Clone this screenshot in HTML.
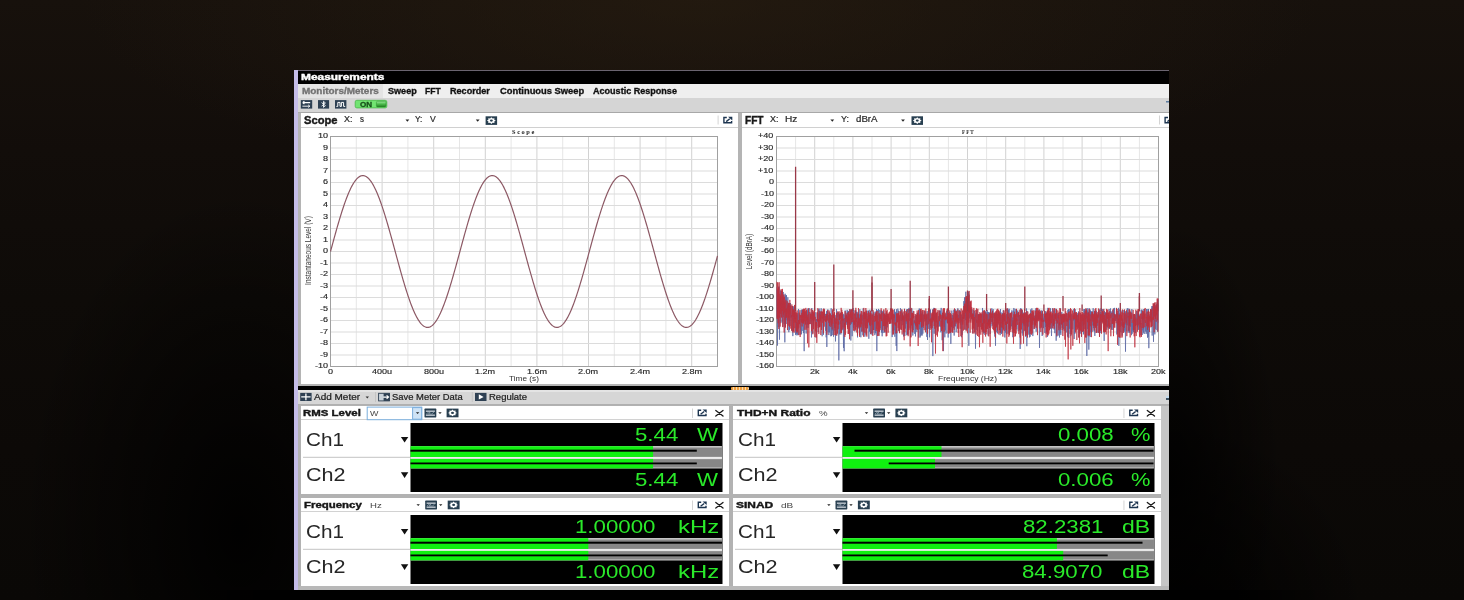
<!DOCTYPE html><html><head><meta charset="utf-8"><title>Measurements</title><style>
*{margin:0;padding:0;box-sizing:border-box}
html,body{width:1464px;height:600px;overflow:hidden}
body{position:relative;font-family:"Liberation Sans",sans-serif;
background:
 radial-gradient(ellipse 220px 340px at 240px 530px, rgba(0,0,0,0.9), rgba(0,0,0,0) 100%),
 radial-gradient(ellipse 110px 260px at 1172px 480px, rgba(0,0,0,0.85), rgba(0,0,0,0) 100%),
 radial-gradient(ellipse 200px 200px at 1169px 620px, rgba(0,0,0,0.95), rgba(0,0,0,0) 100%),
 radial-gradient(ellipse 620px 190px at 700px 0px, rgba(44,32,18,0.55), rgba(44,32,18,0) 100%),
 linear-gradient(#17110c 0px, #120d0a 150px, #0e0b08 300px, #0c0907 450px, #0a0806 600px);}
#root{position:absolute;left:0;top:0;width:1464px;height:600px;filter:blur(0.4px)}
.a{position:absolute}
.t{position:absolute;white-space:nowrap;line-height:1;transform-origin:0 0}
svg{position:absolute;overflow:visible}
</style></head><body><div id="root">
<div class="a" style="left:200px;top:590px;width:1130px;height:10px;background:linear-gradient(90deg, rgba(0,0,0,0), #000 80px, #000 1010px, rgba(0,0,0,0))"></div>
<div class="a" style="left:298px;top:70px;width:871px;height:520px;background:#b2b2b2"></div>
<div class="a" style="left:294px;top:70px;width:4px;height:520px;background:#c4bce8"></div>
<div class="a" style="left:298px;top:70px;width:871px;height:1px;background:#6a6470"></div>
<div class="a" style="left:298px;top:71px;width:871px;height:13px;background:#000"></div>
<div class="t" style="left:301.16px;top:72.93px;font-size:9.3px;font-family:'Liberation Sans';font-weight:bold;color:#fff;transform:scaleX(1.2810);-webkit-text-stroke:0.40px currentColor;">Measurements</div>
<div class="a" style="left:298px;top:84px;width:871px;height:13.5px;background:#efefef"></div>
<div class="a" style="left:298px;top:84px;width:85px;height:13.5px;background:#e4e4e4"></div>
<div class="t" style="left:301.98px;top:86.67px;font-size:8.4px;font-family:'Liberation Sans';font-weight:bold;color:#717171;transform:scaleX(1.1873);-webkit-text-stroke:0.30px currentColor;">Monitors/Meters</div>
<div class="t" style="left:387.66px;top:86.67px;font-size:8.4px;font-family:'Liberation Sans';font-weight:bold;color:#111;transform:scaleX(1.0838);-webkit-text-stroke:0.30px currentColor;">Sweep</div>
<div class="t" style="left:425.26px;top:86.67px;font-size:8.4px;font-family:'Liberation Sans';font-weight:bold;color:#111;transform:scaleX(1.0232);-webkit-text-stroke:0.30px currentColor;">FFT</div>
<div class="t" style="left:450.43px;top:86.67px;font-size:8.4px;font-family:'Liberation Sans';font-weight:bold;color:#111;transform:scaleX(1.0845);-webkit-text-stroke:0.30px currentColor;">Recorder</div>
<div class="t" style="left:499.51px;top:86.67px;font-size:8.4px;font-family:'Liberation Sans';font-weight:bold;color:#111;transform:scaleX(1.1177);-webkit-text-stroke:0.30px currentColor;">Continuous Sweep</div>
<div class="t" style="left:592.86px;top:86.67px;font-size:8.4px;font-family:'Liberation Sans';font-weight:bold;color:#111;transform:scaleX(1.0797);-webkit-text-stroke:0.30px currentColor;">Acoustic Response</div>
<div class="a" style="left:298px;top:97.5px;width:871px;height:15px;background:#d5d5d5"></div>
<div class="a" style="left:298px;top:111.5px;width:871px;height:1px;background:#a8a8a8"></div>
<svg style="left:298px;top:97px" width="100" height="16" viewBox="298 97 100 16">
<rect x="300.8" y="100.1" width="11.4" height="8.5" fill="#2e4053"/><path d="M302.6 102.6H310.2M302.6 102.6l1.8 -1.4M302.6 102.6l1.8 1.4" stroke="#fff" stroke-width="1.1" fill="none"/><path d="M302.4 106.2H309.8M309.8 106.2l-1.6 -1.3M309.8 106.2l-1.6 1.3" stroke="#fff" stroke-width="0.9" fill="none"/><rect x="318" y="100.1" width="11.1" height="8.5" fill="#2e4053"/><path d="M321.6 102.6L325.4 105.6L323.5 107.3V101.3L325.4 103.0L321.6 106.1" stroke="#fff" stroke-width="0.9" fill="none"/><rect x="335" y="100.1" width="11.4" height="8.5" fill="#2e4053"/><path d="M336.4 106.4H337.8V102.4H340V106.4H341.4V102.4H343.6V106.4H345.2" stroke="#fff" stroke-width="1" fill="none"/><defs><linearGradient id="ong" x1="0" y1="0" x2="0" y2="1"><stop offset="0" stop-color="#9ae89a"/><stop offset="0.5" stop-color="#4cbc4c"/><stop offset="1" stop-color="#237d23"/></linearGradient></defs><rect x="355.2" y="100.3" width="31.6" height="7.6" rx="1.6" fill="#72e472" stroke="#47b847" stroke-width="0.8"/><rect x="376.4" y="101.3" width="9.6" height="5.6" rx="1.2" fill="url(#ong)" stroke="#2b8a2b" stroke-width="0.5"/>
</svg>
<div class="t" style="left:359.75px;top:100.54px;font-size:7.2px;font-family:'Liberation Sans';font-weight:bold;color:#17501a;transform:scaleX(1.1188);-webkit-text-stroke:0.30px currentColor;">ON</div>
<svg style="left:1160px;top:97px" width="9" height="15" viewBox="1160 97 9 15"><path d="M1166 101.8h3" stroke="#4a6f98" stroke-width="1.3"/></svg>
<div class="a" style="left:298px;top:112.5px;width:871px;height:273.5px;background:#b4b4b4"></div>
<div class="a" style="left:300.5px;top:112.5px;width:437.2px;height:271.6px;background:#fff"></div>
<div class="a" style="left:300.5px;top:127px;width:437.2px;height:1px;background:#d0d0d0"></div>
<div class="a" style="left:741.7px;top:112.5px;width:427.3px;height:271.6px;background:#fff"></div>
<div class="a" style="left:741.7px;top:127px;width:427.3px;height:1px;background:#d0d0d0"></div>
<div class="t" style="left:303.63px;top:115.50px;font-size:10.2px;font-family:'Liberation Sans';font-weight:bold;color:#1a1a1a;transform:scaleX(1.0962);-webkit-text-stroke:0.40px currentColor;">Scope</div>
<div class="t" style="left:344.26px;top:116.10px;font-size:8.2px;font-family:'Liberation Sans';font-weight:normal;color:#2a2a2a;transform:scaleX(1.0903);-webkit-text-stroke:0.2px currentColor;">X:</div>
<div class="t" style="left:360.18px;top:116.10px;font-size:8.2px;font-family:'Liberation Sans';font-weight:normal;color:#2a2a2a;transform:scaleX(0.9689);-webkit-text-stroke:0.2px currentColor;">s</div>
<div class="t" style="left:415.37px;top:116.10px;font-size:8.2px;font-family:'Liberation Sans';font-weight:normal;color:#2a2a2a;transform:scaleX(1.0115);-webkit-text-stroke:0.2px currentColor;">Y:</div>
<div class="t" style="left:430.20px;top:116.10px;font-size:8.2px;font-family:'Liberation Sans';font-weight:normal;color:#2a2a2a;transform:scaleX(1.0528);-webkit-text-stroke:0.2px currentColor;">V</div>
<svg style="left:300px;top:112px;overflow:visible" width="440" height="275" viewBox="300 112 440 275">
<path d="M405.50 119.45h3.80l-1.90 2.30z" fill="#222"/><path d="M475.80 119.45h3.80l-1.90 2.30z" fill="#222"/><rect x="485.6" y="116.3" width="11.5" height="8.6" fill="#283f50"/><polygon points="495.75,120.60 494.28,121.51 494.46,122.93 492.56,122.80 491.35,123.90 490.14,122.80 488.24,122.93 488.42,121.51 486.95,120.60 488.42,119.69 488.24,118.27 490.14,118.40 491.35,117.30 492.56,118.40 494.46,118.27 494.28,119.69" fill="#fff"/><ellipse cx="491.35" cy="120.6" rx="1.5" ry="1.15" fill="#283f50"/><rect x="717.6" y="115.5" width="1" height="9" fill="#d4d4d4"/><path d="M726.80 117.50H723.90V122.80H731.60V121.00" fill="none" stroke="#1d3550" stroke-width="1.4"/><path d="M726.20 121.60L729.80 118.80" stroke="#1d3550" stroke-width="1.4"/><path d="M728.10 116.80H732.30V120.40Z" fill="#1d3550"/><rect x="355.80" y="136.5" width="1" height="230.00" fill="#e6e6e6"/><rect x="381.60" y="136.5" width="1" height="230.00" fill="#d2d2d2"/><rect x="407.40" y="136.5" width="1" height="230.00" fill="#e6e6e6"/><rect x="433.20" y="136.5" width="1" height="230.00" fill="#d2d2d2"/><rect x="459.00" y="136.5" width="1" height="230.00" fill="#e6e6e6"/><rect x="484.80" y="136.5" width="1" height="230.00" fill="#d2d2d2"/><rect x="510.60" y="136.5" width="1" height="230.00" fill="#e6e6e6"/><rect x="536.40" y="136.5" width="1" height="230.00" fill="#d2d2d2"/><rect x="562.20" y="136.5" width="1" height="230.00" fill="#e6e6e6"/><rect x="588.00" y="136.5" width="1" height="230.00" fill="#d2d2d2"/><rect x="613.80" y="136.5" width="1" height="230.00" fill="#e6e6e6"/><rect x="639.60" y="136.5" width="1" height="230.00" fill="#d2d2d2"/><rect x="665.40" y="136.5" width="1" height="230.00" fill="#e6e6e6"/><rect x="691.20" y="136.5" width="1" height="230.00" fill="#d2d2d2"/><rect x="330.5" y="147.50" width="387.00" height="1" fill="#dcdcdc"/><rect x="330.5" y="159.00" width="387.00" height="1" fill="#dcdcdc"/><rect x="330.5" y="170.50" width="387.00" height="1" fill="#dcdcdc"/><rect x="330.5" y="182.00" width="387.00" height="1" fill="#dcdcdc"/><rect x="330.5" y="193.50" width="387.00" height="1" fill="#dcdcdc"/><rect x="330.5" y="205.00" width="387.00" height="1" fill="#dcdcdc"/><rect x="330.5" y="216.50" width="387.00" height="1" fill="#dcdcdc"/><rect x="330.5" y="228.00" width="387.00" height="1" fill="#dcdcdc"/><rect x="330.5" y="239.50" width="387.00" height="1" fill="#dcdcdc"/><rect x="330.5" y="251.00" width="387.00" height="1" fill="#dcdcdc"/><rect x="330.5" y="262.50" width="387.00" height="1" fill="#dcdcdc"/><rect x="330.5" y="274.00" width="387.00" height="1" fill="#dcdcdc"/><rect x="330.5" y="285.50" width="387.00" height="1" fill="#dcdcdc"/><rect x="330.5" y="297.00" width="387.00" height="1" fill="#dcdcdc"/><rect x="330.5" y="308.50" width="387.00" height="1" fill="#dcdcdc"/><rect x="330.5" y="320.00" width="387.00" height="1" fill="#dcdcdc"/><rect x="330.5" y="331.50" width="387.00" height="1" fill="#dcdcdc"/><rect x="330.5" y="343.00" width="387.00" height="1" fill="#dcdcdc"/><rect x="330.5" y="354.50" width="387.00" height="1" fill="#dcdcdc"/><rect x="330.5" y="136.5" width="387.0" height="230.00" fill="none" stroke="#a0a0a0" stroke-width="1"/><polyline points="330.50,251.50 331.00,249.66 331.50,247.82 332.00,245.98 332.50,244.14 333.00,242.31 333.50,240.48 334.00,238.66 334.50,236.85 335.00,235.05 335.50,233.25 336.00,231.47 336.50,229.70 337.00,227.94 337.50,226.20 338.00,224.47 338.50,222.75 339.00,221.06 339.50,219.38 340.00,217.72 340.50,216.08 341.00,214.46 341.50,212.86 342.00,211.29 342.50,209.74 343.00,208.21 343.50,206.71 344.00,205.23 344.50,203.79 345.00,202.37 345.50,200.98 346.00,199.62 346.50,198.29 347.00,196.99 347.50,195.72 348.00,194.49 348.50,193.29 349.00,192.13 349.50,191.00 350.00,189.90 350.50,188.84 351.00,187.82 351.50,186.84 352.00,185.89 352.50,184.98 353.00,184.12 353.50,183.29 354.00,182.50 354.50,181.75 355.00,181.05 355.50,180.38 356.00,179.76 356.50,179.18 357.00,178.64 357.50,178.15 358.00,177.69 358.50,177.29 359.00,176.92 359.50,176.60 360.00,176.33 360.50,176.09 361.00,175.91 361.50,175.76 362.00,175.66 362.50,175.61 363.00,175.60 363.50,175.64 364.00,175.72 364.50,175.84 365.00,176.01 365.50,176.23 366.00,176.49 366.50,176.79 367.00,177.14 367.50,177.53 368.00,177.96 368.50,178.44 369.00,178.96 369.50,179.52 370.00,180.13 370.50,180.78 371.00,181.47 371.50,182.20 372.00,182.97 372.50,183.78 373.00,184.63 373.50,185.52 374.00,186.45 374.50,187.42 375.00,188.43 375.50,189.47 376.00,190.55 376.50,191.67 377.00,192.82 377.50,194.01 378.00,195.23 378.50,196.48 379.00,197.77 379.50,199.08 380.00,200.43 380.50,201.81 381.00,203.22 381.50,204.65 382.00,206.12 382.50,207.61 383.00,209.12 383.50,210.66 384.00,212.23 384.50,213.82 385.00,215.43 385.50,217.06 386.00,218.71 386.50,220.38 387.00,222.07 387.50,223.78 388.00,225.50 388.50,227.24 389.00,228.99 389.50,230.76 390.00,232.54 390.50,234.33 391.00,236.13 391.50,237.94 392.00,239.75 392.50,241.58 393.00,243.41 393.50,245.24 394.00,247.08 394.50,248.92 395.00,250.76 395.50,252.61 396.00,254.45 396.50,256.29 397.00,258.13 397.50,259.96 398.00,261.79 398.50,263.61 399.00,265.43 399.50,267.23 400.00,269.03 400.50,270.82 401.00,272.59 401.50,274.36 402.00,276.11 402.50,277.84 403.00,279.56 403.50,281.27 404.00,282.95 404.50,284.62 405.00,286.27 405.50,287.90 406.00,289.50 406.50,291.09 407.00,292.65 407.50,294.18 408.00,295.69 408.50,297.18 409.00,298.64 409.50,300.07 410.00,301.47 410.50,302.84 411.00,304.18 411.50,305.49 412.00,306.77 412.50,308.02 413.00,309.23 413.50,310.41 414.00,311.56 414.50,312.67 415.00,313.74 415.50,314.77 416.00,315.77 416.50,316.73 417.00,317.66 417.50,318.54 418.00,319.38 418.50,320.19 419.00,320.95 419.50,321.68 420.00,322.36 420.50,323.00 421.00,323.59 421.50,324.15 422.00,324.66 422.50,325.13 423.00,325.56 423.50,325.94 424.00,326.28 424.50,326.57 425.00,326.82 425.50,327.02 426.00,327.19 426.50,327.30 427.00,327.37 427.50,327.40 428.00,327.38 428.50,327.32 429.00,327.21 429.50,327.06 430.00,326.86 430.50,326.62 431.00,326.34 431.50,326.01 432.00,325.64 432.50,325.22 433.00,324.76 433.50,324.25 434.00,323.71 434.50,323.12 435.00,322.49 435.50,321.81 436.00,321.10 436.50,320.34 437.00,319.55 437.50,318.71 438.00,317.84 438.50,316.92 439.00,315.97 439.50,314.98 440.00,313.95 440.50,312.88 441.00,311.78 441.50,310.64 442.00,309.47 442.50,308.26 443.00,307.03 443.50,305.75 444.00,304.45 444.50,303.11 445.00,301.75 445.50,300.35 446.00,298.93 446.50,297.47 447.00,295.99 447.50,294.49 448.00,292.96 448.50,291.40 449.00,289.82 449.50,288.22 450.00,286.60 450.50,284.95 451.00,283.29 451.50,281.61 452.00,279.91 452.50,278.19 453.00,276.46 453.50,274.71 454.00,272.95 454.50,271.17 455.00,269.39 455.50,267.59 456.00,265.79 456.50,263.97 457.00,262.15 457.50,260.33 458.00,258.49 458.50,256.66 459.00,254.82 459.50,252.97 460.00,251.13 460.50,249.29 461.00,247.45 461.50,245.61 462.00,243.77 462.50,241.94 463.00,240.12 463.50,238.30 464.00,236.49 464.50,234.69 465.00,232.90 465.50,231.12 466.00,229.35 466.50,227.59 467.00,225.85 467.50,224.12 468.00,222.41 468.50,220.72 469.00,219.04 469.50,217.39 470.00,215.75 470.50,214.14 471.00,212.54 471.50,210.97 472.00,209.43 472.50,207.91 473.00,206.41 473.50,204.94 474.00,203.50 474.50,202.09 475.00,200.70 475.50,199.35 476.00,198.03 476.50,196.73 477.00,195.47 477.50,194.25 478.00,193.06 478.50,191.90 479.00,190.77 479.50,189.69 480.00,188.64 480.50,187.62 481.00,186.65 481.50,185.71 482.00,184.81 482.50,183.95 483.00,183.13 483.50,182.35 484.00,181.61 484.50,180.91 485.00,180.25 485.50,179.64 486.00,179.07 486.50,178.54 487.00,178.05 487.50,177.61 488.00,177.21 488.50,176.85 489.00,176.54 489.50,176.28 490.00,176.05 490.50,175.87 491.00,175.74 491.50,175.65 492.00,175.61 492.50,175.61 493.00,175.65 493.50,175.74 494.00,175.87 494.50,176.05 495.00,176.28 495.50,176.54 496.00,176.85 496.50,177.21 497.00,177.61 497.50,178.05 498.00,178.54 498.50,179.07 499.00,179.64 499.50,180.25 500.00,180.91 500.50,181.61 501.00,182.35 501.50,183.13 502.00,183.95 502.50,184.81 503.00,185.71 503.50,186.65 504.00,187.62 504.50,188.64 505.00,189.69 505.50,190.77 506.00,191.90 506.50,193.06 507.00,194.25 507.50,195.47 508.00,196.73 508.50,198.03 509.00,199.35 509.50,200.70 510.00,202.09 510.50,203.50 511.00,204.94 511.50,206.41 512.00,207.91 512.50,209.43 513.00,210.97 513.50,212.54 514.00,214.14 514.50,215.75 515.00,217.39 515.50,219.04 516.00,220.72 516.50,222.41 517.00,224.12 517.50,225.85 518.00,227.59 518.50,229.35 519.00,231.12 519.50,232.90 520.00,234.69 520.50,236.49 521.00,238.30 521.50,240.12 522.00,241.94 522.50,243.77 523.00,245.61 523.50,247.45 524.00,249.29 524.50,251.13 525.00,252.97 525.50,254.82 526.00,256.66 526.50,258.49 527.00,260.33 527.50,262.15 528.00,263.97 528.50,265.79 529.00,267.59 529.50,269.39 530.00,271.17 530.50,272.95 531.00,274.71 531.50,276.46 532.00,278.19 532.50,279.91 533.00,281.61 533.50,283.29 534.00,284.95 534.50,286.60 535.00,288.22 535.50,289.82 536.00,291.40 536.50,292.96 537.00,294.49 537.50,295.99 538.00,297.47 538.50,298.93 539.00,300.35 539.50,301.75 540.00,303.11 540.50,304.45 541.00,305.75 541.50,307.03 542.00,308.26 542.50,309.47 543.00,310.64 543.50,311.78 544.00,312.88 544.50,313.95 545.00,314.98 545.50,315.97 546.00,316.92 546.50,317.84 547.00,318.71 547.50,319.55 548.00,320.34 548.50,321.10 549.00,321.81 549.50,322.49 550.00,323.12 550.50,323.71 551.00,324.25 551.50,324.76 552.00,325.22 552.50,325.64 553.00,326.01 553.50,326.34 554.00,326.62 554.50,326.86 555.00,327.06 555.50,327.21 556.00,327.32 556.50,327.38 557.00,327.40 557.50,327.37 558.00,327.30 558.50,327.19 559.00,327.02 559.50,326.82 560.00,326.57 560.50,326.28 561.00,325.94 561.50,325.56 562.00,325.13 562.50,324.66 563.00,324.15 563.50,323.59 564.00,323.00 564.50,322.36 565.00,321.68 565.50,320.95 566.00,320.19 566.50,319.38 567.00,318.54 567.50,317.66 568.00,316.73 568.50,315.77 569.00,314.77 569.50,313.74 570.00,312.67 570.50,311.56 571.00,310.41 571.50,309.23 572.00,308.02 572.50,306.77 573.00,305.49 573.50,304.18 574.00,302.84 574.50,301.47 575.00,300.07 575.50,298.64 576.00,297.18 576.50,295.69 577.00,294.18 577.50,292.65 578.00,291.09 578.50,289.50 579.00,287.90 579.50,286.27 580.00,284.62 580.50,282.95 581.00,281.27 581.50,279.56 582.00,277.84 582.50,276.11 583.00,274.36 583.50,272.59 584.00,270.82 584.50,269.03 585.00,267.23 585.50,265.43 586.00,263.61 586.50,261.79 587.00,259.96 587.50,258.13 588.00,256.29 588.50,254.45 589.00,252.61 589.50,250.76 590.00,248.92 590.50,247.08 591.00,245.24 591.50,243.41 592.00,241.58 592.50,239.75 593.00,237.94 593.50,236.13 594.00,234.33 594.50,232.54 595.00,230.76 595.50,228.99 596.00,227.24 596.50,225.50 597.00,223.78 597.50,222.07 598.00,220.38 598.50,218.71 599.00,217.06 599.50,215.43 600.00,213.82 600.50,212.23 601.00,210.66 601.50,209.12 602.00,207.61 602.50,206.12 603.00,204.65 603.50,203.22 604.00,201.81 604.50,200.43 605.00,199.08 605.50,197.77 606.00,196.48 606.50,195.23 607.00,194.01 607.50,192.82 608.00,191.67 608.50,190.55 609.00,189.47 609.50,188.43 610.00,187.42 610.50,186.45 611.00,185.52 611.50,184.63 612.00,183.78 612.50,182.97 613.00,182.20 613.50,181.47 614.00,180.78 614.50,180.13 615.00,179.52 615.50,178.96 616.00,178.44 616.50,177.96 617.00,177.53 617.50,177.14 618.00,176.79 618.50,176.49 619.00,176.23 619.50,176.01 620.00,175.84 620.50,175.72 621.00,175.64 621.50,175.60 622.00,175.61 622.50,175.66 623.00,175.76 623.50,175.91 624.00,176.09 624.50,176.33 625.00,176.60 625.50,176.92 626.00,177.29 626.50,177.69 627.00,178.15 627.50,178.64 628.00,179.18 628.50,179.76 629.00,180.38 629.50,181.05 630.00,181.75 630.50,182.50 631.00,183.29 631.50,184.12 632.00,184.98 632.50,185.89 633.00,186.84 633.50,187.82 634.00,188.84 634.50,189.90 635.00,191.00 635.50,192.13 636.00,193.29 636.50,194.49 637.00,195.72 637.50,196.99 638.00,198.29 638.50,199.62 639.00,200.98 639.50,202.37 640.00,203.79 640.50,205.23 641.00,206.71 641.50,208.21 642.00,209.74 642.50,211.29 643.00,212.86 643.50,214.46 644.00,216.08 644.50,217.72 645.00,219.38 645.50,221.06 646.00,222.75 646.50,224.47 647.00,226.20 647.50,227.94 648.00,229.70 648.50,231.47 649.00,233.25 649.50,235.05 650.00,236.85 650.50,238.66 651.00,240.48 651.50,242.31 652.00,244.14 652.50,245.98 653.00,247.82 653.50,249.66 654.00,251.50 654.50,253.34 655.00,255.18 655.50,257.02 656.00,258.86 656.50,260.69 657.00,262.52 657.50,264.34 658.00,266.15 658.50,267.95 659.00,269.75 659.50,271.53 660.00,273.30 660.50,275.06 661.00,276.80 661.50,278.53 662.00,280.25 662.50,281.94 663.00,283.62 663.50,285.28 664.00,286.92 664.50,288.54 665.00,290.14 665.50,291.71 666.00,293.26 666.50,294.79 667.00,296.29 667.50,297.77 668.00,299.21 668.50,300.63 669.00,302.02 669.50,303.38 670.00,304.71 670.50,306.01 671.00,307.28 671.50,308.51 672.00,309.71 672.50,310.87 673.00,312.00 673.50,313.10 674.00,314.16 674.50,315.18 675.00,316.16 675.50,317.11 676.00,318.02 676.50,318.88 677.00,319.71 677.50,320.50 678.00,321.25 678.50,321.95 679.00,322.62 679.50,323.24 680.00,323.82 680.50,324.36 681.00,324.85 681.50,325.31 682.00,325.71 682.50,326.08 683.00,326.40 683.50,326.67 684.00,326.91 684.50,327.09 685.00,327.24 685.50,327.34 686.00,327.39 686.50,327.40 687.00,327.36 687.50,327.28 688.00,327.16 688.50,326.99 689.00,326.77 689.50,326.51 690.00,326.21 690.50,325.86 691.00,325.47 691.50,325.04 692.00,324.56 692.50,324.04 693.00,323.48 693.50,322.87 694.00,322.22 694.50,321.53 695.00,320.80 695.50,320.03 696.00,319.22 696.50,318.37 697.00,317.48 697.50,316.55 698.00,315.58 698.50,314.57 699.00,313.53 699.50,312.45 700.00,311.33 700.50,310.18 701.00,308.99 701.50,307.77 702.00,306.52 702.50,305.23 703.00,303.92 703.50,302.57 704.00,301.19 704.50,299.78 705.00,298.35 705.50,296.88 706.00,295.39 706.50,293.88 707.00,292.34 707.50,290.77 708.00,289.18 708.50,287.57 709.00,285.94 709.50,284.29 710.00,282.62 710.50,280.93 711.00,279.22 711.50,277.50 712.00,275.76 712.50,274.01 713.00,272.24 713.50,270.46 714.00,268.67 714.50,266.87 715.00,265.06 715.50,263.25 716.00,261.42 716.50,259.59 717.00,257.76 717.50,255.92" fill="none" stroke="#8c5864" stroke-width="1.2"/>
</svg>
<div class="t" style="left:317.74px;top:133.10px;font-size:6.8px;font-family:'Liberation Sans';font-weight:normal;color:#2a2a2a;transform:scaleX(1.3330);-webkit-text-stroke:0.15px currentColor;">10</div>
<div class="t" style="left:322.93px;top:144.60px;font-size:6.8px;font-family:'Liberation Sans';font-weight:normal;color:#2a2a2a;transform:scaleX(1.3330);-webkit-text-stroke:0.15px currentColor;">9</div>
<div class="t" style="left:322.93px;top:156.10px;font-size:6.8px;font-family:'Liberation Sans';font-weight:normal;color:#2a2a2a;transform:scaleX(1.3330);-webkit-text-stroke:0.15px currentColor;">8</div>
<div class="t" style="left:322.93px;top:167.60px;font-size:6.8px;font-family:'Liberation Sans';font-weight:normal;color:#2a2a2a;transform:scaleX(1.3330);-webkit-text-stroke:0.15px currentColor;">7</div>
<div class="t" style="left:322.93px;top:179.10px;font-size:6.8px;font-family:'Liberation Sans';font-weight:normal;color:#2a2a2a;transform:scaleX(1.3330);-webkit-text-stroke:0.15px currentColor;">6</div>
<div class="t" style="left:322.93px;top:190.60px;font-size:6.8px;font-family:'Liberation Sans';font-weight:normal;color:#2a2a2a;transform:scaleX(1.3330);-webkit-text-stroke:0.15px currentColor;">5</div>
<div class="t" style="left:322.78px;top:202.10px;font-size:6.8px;font-family:'Liberation Sans';font-weight:normal;color:#2a2a2a;transform:scaleX(1.3330);-webkit-text-stroke:0.15px currentColor;">4</div>
<div class="t" style="left:322.93px;top:213.60px;font-size:6.8px;font-family:'Liberation Sans';font-weight:normal;color:#2a2a2a;transform:scaleX(1.3330);-webkit-text-stroke:0.15px currentColor;">3</div>
<div class="t" style="left:322.93px;top:225.10px;font-size:6.8px;font-family:'Liberation Sans';font-weight:normal;color:#2a2a2a;transform:scaleX(1.3330);-webkit-text-stroke:0.15px currentColor;">2</div>
<div class="t" style="left:322.93px;top:236.60px;font-size:6.8px;font-family:'Liberation Sans';font-weight:normal;color:#2a2a2a;transform:scaleX(1.3330);-webkit-text-stroke:0.15px currentColor;">1</div>
<div class="t" style="left:322.78px;top:248.10px;font-size:6.8px;font-family:'Liberation Sans';font-weight:normal;color:#2a2a2a;transform:scaleX(1.3330);-webkit-text-stroke:0.15px currentColor;">0</div>
<div class="t" style="left:319.91px;top:259.60px;font-size:6.8px;font-family:'Liberation Sans';font-weight:normal;color:#2a2a2a;transform:scaleX(1.3330);-webkit-text-stroke:0.15px currentColor;">-1</div>
<div class="t" style="left:319.91px;top:271.10px;font-size:6.8px;font-family:'Liberation Sans';font-weight:normal;color:#2a2a2a;transform:scaleX(1.3330);-webkit-text-stroke:0.15px currentColor;">-2</div>
<div class="t" style="left:319.91px;top:282.60px;font-size:6.8px;font-family:'Liberation Sans';font-weight:normal;color:#2a2a2a;transform:scaleX(1.3330);-webkit-text-stroke:0.15px currentColor;">-3</div>
<div class="t" style="left:319.77px;top:294.10px;font-size:6.8px;font-family:'Liberation Sans';font-weight:normal;color:#2a2a2a;transform:scaleX(1.3330);-webkit-text-stroke:0.15px currentColor;">-4</div>
<div class="t" style="left:319.91px;top:305.60px;font-size:6.8px;font-family:'Liberation Sans';font-weight:normal;color:#2a2a2a;transform:scaleX(1.3330);-webkit-text-stroke:0.15px currentColor;">-5</div>
<div class="t" style="left:319.91px;top:317.10px;font-size:6.8px;font-family:'Liberation Sans';font-weight:normal;color:#2a2a2a;transform:scaleX(1.3330);-webkit-text-stroke:0.15px currentColor;">-6</div>
<div class="t" style="left:319.91px;top:328.60px;font-size:6.8px;font-family:'Liberation Sans';font-weight:normal;color:#2a2a2a;transform:scaleX(1.3330);-webkit-text-stroke:0.15px currentColor;">-7</div>
<div class="t" style="left:319.91px;top:340.10px;font-size:6.8px;font-family:'Liberation Sans';font-weight:normal;color:#2a2a2a;transform:scaleX(1.3330);-webkit-text-stroke:0.15px currentColor;">-8</div>
<div class="t" style="left:319.91px;top:351.60px;font-size:6.8px;font-family:'Liberation Sans';font-weight:normal;color:#2a2a2a;transform:scaleX(1.3330);-webkit-text-stroke:0.15px currentColor;">-9</div>
<div class="t" style="left:314.72px;top:363.10px;font-size:6.8px;font-family:'Liberation Sans';font-weight:normal;color:#2a2a2a;transform:scaleX(1.3330);-webkit-text-stroke:0.15px currentColor;">-10</div>
<div class="t" style="left:327.95px;top:369.00px;font-size:6.8px;font-family:'Liberation Sans';font-weight:normal;color:#2a2a2a;transform:scaleX(1.3330);-webkit-text-stroke:0.15px currentColor;">0</div>
<div class="t" style="left:372.20px;top:369.00px;font-size:6.8px;font-family:'Liberation Sans';font-weight:normal;color:#2a2a2a;transform:scaleX(1.3330);-webkit-text-stroke:0.15px currentColor;">400u</div>
<div class="t" style="left:423.73px;top:369.00px;font-size:6.8px;font-family:'Liberation Sans';font-weight:normal;color:#2a2a2a;transform:scaleX(1.3330);-webkit-text-stroke:0.15px currentColor;">800u</div>
<div class="t" style="left:475.18px;top:369.00px;font-size:6.8px;font-family:'Liberation Sans';font-weight:normal;color:#2a2a2a;transform:scaleX(1.3330);-webkit-text-stroke:0.15px currentColor;">1.2m</div>
<div class="t" style="left:526.78px;top:369.00px;font-size:6.8px;font-family:'Liberation Sans';font-weight:normal;color:#2a2a2a;transform:scaleX(1.3330);-webkit-text-stroke:0.15px currentColor;">1.6m</div>
<div class="t" style="left:578.45px;top:369.00px;font-size:6.8px;font-family:'Liberation Sans';font-weight:normal;color:#2a2a2a;transform:scaleX(1.3330);-webkit-text-stroke:0.15px currentColor;">2.0m</div>
<div class="t" style="left:630.05px;top:369.00px;font-size:6.8px;font-family:'Liberation Sans';font-weight:normal;color:#2a2a2a;transform:scaleX(1.3330);-webkit-text-stroke:0.15px currentColor;">2.4m</div>
<div class="t" style="left:681.65px;top:369.00px;font-size:6.8px;font-family:'Liberation Sans';font-weight:normal;color:#2a2a2a;transform:scaleX(1.3330);-webkit-text-stroke:0.15px currentColor;">2.8m</div>
<div class="t" style="left:509.47px;top:376.00px;font-size:6.8px;font-family:'Liberation Sans';font-weight:normal;color:#333;transform:scaleX(1.2140);">Time (s)</div>
<div class="t" style="left:208.39999999999998px;top:247.4px;width:200px;text-align:center;font-size:7px;color:#333;transform-origin:50% 50%;transform:rotate(-90deg) scale(0.93,1.333);">Instantaneous Level (V)</div>
<div class="t" style="left:511.95px;top:128.89px;font-size:6.2px;font-family:'Liberation Serif';font-weight:bold;color:#222;transform:scaleX(1.0295);">S c o p e</div>
<div class="t" style="left:744.57px;top:115.50px;font-size:10.2px;font-family:'Liberation Sans';font-weight:bold;color:#1a1a1a;transform:scaleX(0.9923);-webkit-text-stroke:0.40px currentColor;">FFT</div>
<div class="t" style="left:769.96px;top:116.10px;font-size:8.2px;font-family:'Liberation Sans';font-weight:normal;color:#2a2a2a;transform:scaleX(1.0903);-webkit-text-stroke:0.2px currentColor;">X:</div>
<div class="t" style="left:784.91px;top:116.10px;font-size:8.2px;font-family:'Liberation Sans';font-weight:normal;color:#2a2a2a;transform:scaleX(1.2338);-webkit-text-stroke:0.2px currentColor;">Hz</div>
<div class="t" style="left:841.06px;top:116.10px;font-size:8.2px;font-family:'Liberation Sans';font-weight:normal;color:#2a2a2a;transform:scaleX(1.0893);-webkit-text-stroke:0.2px currentColor;">Y:</div>
<div class="t" style="left:855.60px;top:116.10px;font-size:8.2px;font-family:'Liberation Sans';font-weight:normal;color:#2a2a2a;transform:scaleX(1.1824);-webkit-text-stroke:0.2px currentColor;">dBrA</div>
<svg style="left:740px;top:112px;overflow:hidden" width="429" height="275" viewBox="740 112 429 275">
<path d="M830.40 119.45h3.80l-1.90 2.30z" fill="#222"/><path d="M901.10 119.45h3.80l-1.90 2.30z" fill="#222"/><rect x="911.5" y="116.3" width="11.5" height="8.6" fill="#283f50"/><polygon points="921.65,120.60 920.18,121.51 920.36,122.93 918.46,122.80 917.25,123.90 916.04,122.80 914.14,122.93 914.32,121.51 912.85,120.60 914.32,119.69 914.14,118.27 916.04,118.40 917.25,117.30 918.46,118.40 920.36,118.27 920.18,119.69" fill="#fff"/><ellipse cx="917.25" cy="120.6" rx="1.5" ry="1.15" fill="#283f50"/><rect x="1159.0" y="115.5" width="1" height="9" fill="#d4d4d4"/><path d="M1168.00 117.50H1165.10V122.80H1172.80V121.00" fill="none" stroke="#1d3550" stroke-width="1.4"/><path d="M1167.40 121.60L1171.00 118.80" stroke="#1d3550" stroke-width="1.4"/><path d="M1169.30 116.80H1173.50V120.40Z" fill="#1d3550"/><rect x="795.10" y="136.5" width="1" height="230.00" fill="#e6e6e6"/><rect x="814.20" y="136.5" width="1" height="230.00" fill="#d2d2d2"/><rect x="833.30" y="136.5" width="1" height="230.00" fill="#e6e6e6"/><rect x="852.40" y="136.5" width="1" height="230.00" fill="#d2d2d2"/><rect x="871.50" y="136.5" width="1" height="230.00" fill="#e6e6e6"/><rect x="890.60" y="136.5" width="1" height="230.00" fill="#d2d2d2"/><rect x="909.70" y="136.5" width="1" height="230.00" fill="#e6e6e6"/><rect x="928.80" y="136.5" width="1" height="230.00" fill="#d2d2d2"/><rect x="947.90" y="136.5" width="1" height="230.00" fill="#e6e6e6"/><rect x="967.00" y="136.5" width="1" height="230.00" fill="#d2d2d2"/><rect x="986.10" y="136.5" width="1" height="230.00" fill="#e6e6e6"/><rect x="1005.20" y="136.5" width="1" height="230.00" fill="#d2d2d2"/><rect x="1024.30" y="136.5" width="1" height="230.00" fill="#e6e6e6"/><rect x="1043.40" y="136.5" width="1" height="230.00" fill="#d2d2d2"/><rect x="1062.50" y="136.5" width="1" height="230.00" fill="#e6e6e6"/><rect x="1081.60" y="136.5" width="1" height="230.00" fill="#d2d2d2"/><rect x="1100.70" y="136.5" width="1" height="230.00" fill="#e6e6e6"/><rect x="1119.80" y="136.5" width="1" height="230.00" fill="#d2d2d2"/><rect x="1138.90" y="136.5" width="1" height="230.00" fill="#e6e6e6"/><rect x="776.5" y="147.50" width="382.00" height="1" fill="#dcdcdc"/><rect x="776.5" y="159.00" width="382.00" height="1" fill="#dcdcdc"/><rect x="776.5" y="170.50" width="382.00" height="1" fill="#dcdcdc"/><rect x="776.5" y="182.00" width="382.00" height="1" fill="#dcdcdc"/><rect x="776.5" y="193.50" width="382.00" height="1" fill="#dcdcdc"/><rect x="776.5" y="205.00" width="382.00" height="1" fill="#dcdcdc"/><rect x="776.5" y="216.50" width="382.00" height="1" fill="#dcdcdc"/><rect x="776.5" y="228.00" width="382.00" height="1" fill="#dcdcdc"/><rect x="776.5" y="239.50" width="382.00" height="1" fill="#dcdcdc"/><rect x="776.5" y="251.00" width="382.00" height="1" fill="#dcdcdc"/><rect x="776.5" y="262.50" width="382.00" height="1" fill="#dcdcdc"/><rect x="776.5" y="274.00" width="382.00" height="1" fill="#dcdcdc"/><rect x="776.5" y="285.50" width="382.00" height="1" fill="#dcdcdc"/><rect x="776.5" y="297.00" width="382.00" height="1" fill="#dcdcdc"/><rect x="776.5" y="308.50" width="382.00" height="1" fill="#dcdcdc"/><rect x="776.5" y="320.00" width="382.00" height="1" fill="#dcdcdc"/><rect x="776.5" y="331.50" width="382.00" height="1" fill="#dcdcdc"/><rect x="776.5" y="343.00" width="382.00" height="1" fill="#dcdcdc"/><rect x="776.5" y="354.50" width="382.00" height="1" fill="#dcdcdc"/><rect x="776.5" y="136.5" width="382.00" height="230.00" fill="none" stroke="#a0a0a0" stroke-width="1"/><clipPath id="fc"><rect x="776.5" y="136.5" width="382.00" height="230.00"/></clipPath><g clip-path="url(#fc)"><polyline points="776.50,286.91 776.83,317.69 777.17,289.43 777.50,345.57 777.83,291.38 778.17,326.94 778.50,286.74 778.83,317.90 779.17,286.60 779.50,339.70 779.83,297.69 780.17,313.65 780.50,290.51 780.83,323.17 781.17,300.49 781.50,317.13 781.83,290.90 782.17,322.17 782.50,292.96 782.83,326.82 783.17,291.99 783.50,317.10 783.83,295.20 784.17,323.86 784.50,301.96 784.83,342.33 785.17,293.74 785.50,326.65 785.83,295.28 786.17,324.01 786.50,295.21 786.83,320.00 787.17,302.03 787.50,313.49 787.83,297.32 788.17,320.49 788.50,304.25 788.83,332.20 789.17,304.92 789.50,329.77 789.83,303.35 790.17,325.87 790.50,303.07 790.83,317.55 791.17,305.97 791.50,317.39 791.83,315.33 792.17,331.12 792.50,306.10 792.83,336.11 793.17,307.40 793.50,316.70 793.83,306.13 794.17,322.66 794.50,311.63 794.83,318.77 795.17,306.77 795.50,334.93 795.83,320.82 796.17,333.90 796.50,322.05 796.83,335.34 797.17,314.56 797.50,334.52 797.83,313.14 798.17,335.17 798.50,308.98 798.83,327.73 799.17,320.22 799.50,320.59 799.83,314.63 800.17,334.72 800.50,318.52 800.83,319.88 801.17,310.12 801.50,334.29 801.83,309.55 802.17,330.93 802.50,313.66 802.83,320.10 803.17,309.30 803.50,333.06 803.83,311.46 804.17,351.16 804.50,313.24 804.83,317.95 805.17,311.98 805.50,317.98 805.83,321.29 806.17,333.52 806.50,310.66 806.83,327.82 807.17,310.44 807.50,324.08 807.83,308.52 808.17,327.85 808.50,313.99 808.83,321.17 809.17,308.06 809.50,318.15 809.83,322.21 810.17,319.02 810.50,315.77 810.83,324.14 811.17,312.71 811.50,337.46 811.83,308.07 812.17,318.42 812.50,312.08 812.83,333.38 813.17,313.44 813.50,325.61 813.83,313.39 814.17,318.91 814.50,312.68 814.83,319.03 815.17,312.18 815.50,326.74 815.83,319.33 816.17,337.67 816.50,319.02 816.83,326.23 817.17,312.89 817.50,321.52 817.83,314.53 818.17,332.02 818.50,309.55 818.83,322.02 819.17,308.50 819.50,327.29 819.83,311.50 820.17,326.71 820.50,311.75 820.83,319.61 821.17,308.28 821.50,318.22 821.83,322.26 822.17,336.25 822.50,317.22 822.83,319.18 823.17,314.17 823.50,334.79 823.83,308.73 824.17,318.03 824.50,312.35 824.83,320.52 825.17,314.12 825.50,330.73 825.83,313.86 826.17,337.35 826.50,311.18 826.83,346.98 827.17,310.66 827.50,317.36 827.83,309.43 828.17,332.25 828.50,315.03 828.83,335.07 829.17,312.17 829.50,332.40 829.83,314.21 830.17,323.25 830.50,317.04 830.83,336.25 831.17,308.31 831.50,336.02 831.83,315.44 832.17,330.73 832.50,311.19 832.83,335.08 833.17,322.37 833.50,336.71 833.83,313.82 834.17,322.03 834.50,313.16 834.83,330.57 835.17,315.19 835.50,341.43 835.83,319.01 836.17,335.55 836.50,309.20 836.83,320.47 837.17,312.39 837.50,317.41 837.83,312.76 838.17,324.59 838.50,312.30 838.83,360.41 839.17,314.80 839.50,334.37 839.83,314.69 840.17,323.87 840.50,320.68 840.83,334.49 841.17,311.99 841.50,317.62 841.83,314.49 842.17,330.37 842.50,315.32 842.83,327.34 843.17,313.82 843.50,347.90 843.83,314.65 844.17,351.24 844.50,317.99 844.83,322.21 845.17,310.41 845.50,329.69 845.83,312.89 846.17,322.76 846.50,315.69 846.83,324.76 847.17,309.84 847.50,326.91 847.83,311.55 848.17,320.64 848.50,310.96 848.83,323.40 849.17,322.15 849.50,335.58 849.83,309.08 850.17,324.79 850.50,310.24 850.83,340.54 851.17,309.73 851.50,324.10 851.83,314.83 852.17,336.21 852.50,313.34 852.83,322.44 853.17,308.03 853.50,327.83 853.83,310.21 854.17,324.44 854.50,321.04 854.83,331.45 855.17,322.82 855.50,323.84 855.83,310.15 856.17,327.06 856.50,311.85 856.83,319.25 857.17,313.84 857.50,337.39 857.83,311.89 858.17,328.45 858.50,314.68 858.83,325.71 859.17,314.27 859.50,335.01 859.83,309.19 860.17,323.19 860.50,313.60 860.83,337.24 861.17,315.30 861.50,331.50 861.83,314.27 862.17,320.36 862.50,315.31 862.83,335.27 863.17,308.40 863.50,331.75 863.83,312.54 864.17,325.55 864.50,312.63 864.83,336.75 865.17,314.56 865.50,318.38 865.83,313.46 866.17,333.82 866.50,312.53 866.83,320.94 867.17,310.61 867.50,326.38 867.83,316.64 868.17,322.17 868.50,310.51 868.83,338.76 869.17,314.37 869.50,331.59 869.83,309.80 870.17,324.17 870.50,313.08 870.83,334.29 871.17,315.04 871.50,333.20 871.83,308.55 872.17,334.86 872.50,320.23 872.83,332.80 873.17,313.39 873.50,322.23 873.83,312.24 874.17,329.95 874.50,320.82 874.83,335.14 875.17,311.56 875.50,333.28 875.83,319.70 876.17,318.00 876.50,308.98 876.83,351.11 877.17,310.02 877.50,325.60 877.83,315.32 878.17,320.66 878.50,308.93 878.83,335.49 879.17,314.17 879.50,318.26 879.83,309.93 880.17,328.28 880.50,316.18 880.83,318.71 881.17,310.50 881.50,332.54 881.83,310.57 882.17,336.29 882.50,311.40 882.83,333.12 883.17,320.60 883.50,317.90 883.83,310.51 884.17,332.89 884.50,313.48 884.83,331.39 885.17,315.16 885.50,329.06 885.83,313.40 886.17,333.06 886.50,315.07 886.83,323.62 887.17,313.84 887.50,327.30 887.83,313.79 888.17,320.78 888.50,316.38 888.83,318.05 889.17,321.32 889.50,323.98 889.83,319.76 890.17,317.59 890.50,322.82 890.83,319.16 891.17,308.72 891.50,318.47 891.83,314.76 892.17,337.09 892.50,310.36 892.83,330.88 893.17,320.80 893.50,317.97 893.83,314.40 894.17,330.37 894.50,309.18 894.83,336.73 895.17,311.79 895.50,333.75 895.83,312.60 896.17,345.88 896.50,309.26 896.83,351.07 897.17,314.86 897.50,322.28 897.83,308.61 898.17,317.93 898.50,310.71 898.83,331.20 899.17,316.42 899.50,324.63 899.83,321.22 900.17,317.94 900.50,308.19 900.83,328.85 901.17,311.64 901.50,321.14 901.83,309.80 902.17,325.18 902.50,312.87 902.83,321.56 903.17,316.45 903.50,336.41 903.83,315.07 904.17,317.46 904.50,308.72 904.83,336.01 905.17,314.60 905.50,328.50 905.83,313.57 906.17,323.80 906.50,309.73 906.83,335.24 907.17,309.04 907.50,330.03 907.83,321.10 908.17,334.58 908.50,308.72 908.83,329.55 909.17,307.91 909.50,321.02 909.83,310.44 910.17,327.92 910.50,309.20 910.83,336.91 911.17,321.63 911.50,325.68 911.83,308.37 912.17,328.45 912.50,313.38 912.83,335.56 913.17,310.87 913.50,330.12 913.83,321.03 914.17,324.26 914.50,320.36 914.83,333.92 915.17,316.06 915.50,336.44 915.83,314.57 916.17,324.52 916.50,316.98 916.83,331.89 917.17,313.03 917.50,326.02 917.83,312.66 918.17,317.12 918.50,316.68 918.83,337.63 919.17,308.59 919.50,329.34 919.83,308.73 920.17,337.44 920.50,311.20 920.83,335.91 921.17,310.67 921.50,334.73 921.83,313.21 922.17,335.50 922.50,311.66 922.83,333.67 923.17,314.38 923.50,327.76 923.83,314.93 924.17,319.03 924.50,310.69 924.83,321.48 925.17,313.66 925.50,320.59 925.83,319.70 926.17,329.81 926.50,316.71 926.83,336.90 927.17,311.12 927.50,339.98 927.83,314.44 928.17,324.77 928.50,313.04 928.83,328.94 929.17,310.40 929.50,337.27 929.83,310.70 930.17,321.94 930.50,309.49 930.83,327.95 931.17,319.41 931.50,328.60 931.83,317.52 932.17,322.57 932.50,309.51 932.83,356.10 933.17,312.50 933.50,320.01 933.83,307.88 934.17,333.74 934.50,307.99 934.83,318.79 935.17,314.09 935.50,336.39 935.83,312.70 936.17,319.19 936.50,313.27 936.83,327.35 937.17,320.96 937.50,331.15 937.83,321.89 938.17,323.68 938.50,316.15 938.83,326.76 939.17,310.57 939.50,326.26 939.83,310.99 940.17,317.20 940.50,310.62 940.83,332.27 941.17,307.92 941.50,321.92 941.83,316.53 942.17,340.24 942.50,313.43 942.83,325.62 943.17,310.36 943.50,351.08 943.83,314.21 944.17,327.14 944.50,321.28 944.83,337.29 945.17,315.31 945.50,330.36 945.83,313.65 946.17,333.52 946.50,310.66 946.83,318.36 947.17,322.49 947.50,319.71 947.83,309.48 948.17,337.51 948.50,310.50 948.83,324.39 949.17,312.01 949.50,332.61 949.83,318.48 950.17,332.83 950.50,314.89 950.83,343.95 951.17,321.54 951.50,327.26 951.83,310.53 952.17,331.35 952.50,315.19 952.83,322.94 953.17,315.28 953.50,328.12 953.83,309.78 954.17,335.57 954.50,320.29 954.83,323.36 955.17,309.01 955.50,326.29 955.83,312.07 956.17,332.26 956.50,310.53 956.83,319.53 957.17,315.21 957.50,322.35 957.83,308.26 958.17,319.53 958.50,315.03 958.83,323.41 959.17,310.35 959.50,320.37 959.83,310.11 960.17,322.75 960.50,311.06 960.83,324.86 961.17,314.74 961.50,337.19 961.83,314.53 962.17,334.81 962.50,317.00 962.83,322.31 963.17,313.00 963.50,318.88 963.83,301.13 964.17,316.90 964.50,297.30 964.83,329.67 965.17,301.27 965.50,319.86 965.83,291.73 966.17,330.00 966.50,297.20 966.83,326.39 967.17,306.74 967.50,319.12 967.83,298.30 968.17,322.57 968.50,291.56 968.83,345.85 969.17,294.63 969.50,318.40 969.83,301.13 970.17,316.96 970.50,310.33 970.83,314.62 971.17,307.23 971.50,319.31 971.83,309.00 972.17,319.52 972.50,313.38 972.83,333.31 973.17,310.10 973.50,324.57 973.83,314.72 974.17,321.46 974.50,310.63 974.83,329.58 975.17,315.20 975.50,348.71 975.83,313.36 976.17,329.90 976.50,319.13 976.83,322.13 977.17,309.70 977.50,330.99 977.83,314.16 978.17,322.39 978.50,314.06 978.83,325.76 979.17,314.38 979.50,332.82 979.83,313.89 980.17,320.29 980.50,321.10 980.83,326.94 981.17,314.12 981.50,317.56 981.83,314.52 982.17,329.80 982.50,307.97 982.83,328.75 983.17,313.86 983.50,333.48 983.83,319.70 984.17,323.40 984.50,311.58 984.83,334.81 985.17,310.81 985.50,318.95 985.83,312.11 986.17,329.03 986.50,313.62 986.83,321.73 987.17,310.09 987.50,324.47 987.83,311.93 988.17,335.72 988.50,312.19 988.83,324.72 989.17,313.46 989.50,324.88 989.83,312.27 990.17,333.96 990.50,310.43 990.83,327.61 991.17,318.38 991.50,321.57 991.83,308.29 992.17,325.86 992.50,311.28 992.83,324.52 993.17,309.13 993.50,318.13 993.83,313.75 994.17,321.96 994.50,314.41 994.83,336.58 995.17,313.27 995.50,345.77 995.83,312.18 996.17,332.26 996.50,313.65 996.83,326.84 997.17,313.69 997.50,333.36 997.83,314.36 998.17,324.62 998.50,311.82 998.83,317.80 999.17,312.69 999.50,320.86 999.83,311.83 1000.17,335.16 1000.50,309.09 1000.83,332.21 1001.17,312.51 1001.50,333.90 1001.83,315.30 1002.17,332.68 1002.50,313.07 1002.83,324.56 1003.17,310.40 1003.50,320.06 1003.83,314.90 1004.17,321.52 1004.50,314.28 1004.83,337.44 1005.17,315.24 1005.50,332.57 1005.83,321.23 1006.17,330.58 1006.50,314.18 1006.83,334.27 1007.17,308.66 1007.50,323.91 1007.83,308.64 1008.17,333.66 1008.50,310.15 1008.83,328.67 1009.17,308.73 1009.50,332.90 1009.83,314.28 1010.17,328.08 1010.50,314.25 1010.83,326.58 1011.17,315.64 1011.50,326.10 1011.83,310.35 1012.17,329.08 1012.50,317.51 1012.83,337.16 1013.17,310.77 1013.50,330.91 1013.83,307.99 1014.17,319.17 1014.50,315.07 1014.83,330.74 1015.17,308.88 1015.50,326.87 1015.83,319.37 1016.17,326.28 1016.50,309.15 1016.83,329.39 1017.17,311.56 1017.50,317.57 1017.83,310.43 1018.17,331.19 1018.50,313.09 1018.83,321.52 1019.17,315.03 1019.50,326.46 1019.83,314.95 1020.17,348.93 1020.50,308.44 1020.83,321.42 1021.17,308.52 1021.50,324.77 1021.83,310.12 1022.17,333.35 1022.50,310.34 1022.83,335.65 1023.17,316.25 1023.50,324.18 1023.83,312.57 1024.17,326.11 1024.50,313.40 1024.83,331.16 1025.17,312.11 1025.50,336.62 1025.83,322.28 1026.17,325.84 1026.50,308.46 1026.83,346.21 1027.17,310.90 1027.50,327.91 1027.83,317.45 1028.17,334.61 1028.50,317.08 1028.83,317.75 1029.17,314.67 1029.50,337.38 1029.83,316.63 1030.17,336.71 1030.50,309.54 1030.83,322.64 1031.17,314.69 1031.50,328.22 1031.83,308.36 1032.17,322.90 1032.50,317.39 1032.83,336.10 1033.17,313.00 1033.50,319.93 1033.83,319.99 1034.17,328.67 1034.50,316.04 1034.83,324.40 1035.17,310.62 1035.50,321.47 1035.83,308.26 1036.17,331.70 1036.50,314.87 1036.83,320.62 1037.17,312.84 1037.50,320.54 1037.83,310.83 1038.17,319.37 1038.50,312.51 1038.83,319.20 1039.17,309.29 1039.50,347.92 1039.83,312.17 1040.17,319.38 1040.50,315.01 1040.83,319.80 1041.17,311.05 1041.50,321.04 1041.83,310.21 1042.17,335.99 1042.50,311.19 1042.83,322.22 1043.17,317.79 1043.50,328.12 1043.83,313.78 1044.17,321.36 1044.50,315.95 1044.83,332.93 1045.17,310.99 1045.50,326.95 1045.83,311.76 1046.17,333.77 1046.50,313.97 1046.83,326.07 1047.17,312.32 1047.50,336.83 1047.83,307.87 1048.17,324.65 1048.50,317.88 1048.83,327.00 1049.17,314.26 1049.50,327.68 1049.83,311.09 1050.17,328.93 1050.50,308.25 1050.83,317.81 1051.17,321.53 1051.50,336.02 1051.83,314.94 1052.17,328.26 1052.50,308.24 1052.83,325.37 1053.17,314.55 1053.50,326.07 1053.83,310.54 1054.17,329.61 1054.50,314.49 1054.83,333.16 1055.17,315.04 1055.50,319.06 1055.83,308.56 1056.17,340.70 1056.50,310.02 1056.83,336.60 1057.17,314.24 1057.50,323.74 1057.83,313.09 1058.17,335.57 1058.50,312.90 1058.83,327.79 1059.17,322.06 1059.50,337.49 1059.83,323.04 1060.17,333.18 1060.50,308.34 1060.83,334.86 1061.17,314.83 1061.50,324.74 1061.83,311.94 1062.17,327.86 1062.50,321.34 1062.83,322.98 1063.17,315.36 1063.50,329.23 1063.83,314.16 1064.17,330.83 1064.50,314.07 1064.83,319.05 1065.17,314.47 1065.50,319.22 1065.83,318.98 1066.17,332.41 1066.50,313.82 1066.83,317.09 1067.17,320.71 1067.50,336.56 1067.83,309.89 1068.17,337.42 1068.50,309.29 1068.83,337.71 1069.17,309.10 1069.50,328.74 1069.83,318.12 1070.17,334.02 1070.50,309.57 1070.83,336.11 1071.17,314.67 1071.50,332.08 1071.83,313.78 1072.17,320.95 1072.50,322.77 1072.83,329.30 1073.17,315.92 1073.50,320.32 1073.83,308.86 1074.17,338.99 1074.50,311.76 1074.83,333.90 1075.17,309.11 1075.50,330.07 1075.83,318.59 1076.17,327.08 1076.50,314.42 1076.83,319.83 1077.17,312.93 1077.50,322.20 1077.83,314.87 1078.17,327.51 1078.50,311.49 1078.83,337.32 1079.17,321.70 1079.50,332.57 1079.83,322.49 1080.17,333.71 1080.50,315.19 1080.83,326.93 1081.17,315.38 1081.50,336.81 1081.83,314.41 1082.17,331.96 1082.50,314.41 1082.83,325.50 1083.17,318.10 1083.50,334.35 1083.83,309.15 1084.17,329.05 1084.50,309.05 1084.83,318.27 1085.17,309.52 1085.50,330.81 1085.83,312.07 1086.17,318.86 1086.50,309.23 1086.83,355.95 1087.17,308.16 1087.50,329.01 1087.83,310.60 1088.17,336.32 1088.50,312.09 1088.83,349.63 1089.17,308.08 1089.50,324.64 1089.83,309.28 1090.17,337.04 1090.50,310.53 1090.83,332.09 1091.17,311.27 1091.50,332.56 1091.83,311.44 1092.17,331.80 1092.50,313.04 1092.83,325.45 1093.17,308.18 1093.50,328.10 1093.83,322.23 1094.17,331.67 1094.50,312.29 1094.83,335.93 1095.17,311.24 1095.50,325.95 1095.83,316.84 1096.17,326.41 1096.50,310.74 1096.83,332.74 1097.17,313.67 1097.50,325.63 1097.83,315.24 1098.17,332.81 1098.50,311.16 1098.83,317.31 1099.17,313.12 1099.50,336.37 1099.83,308.81 1100.17,329.72 1100.50,312.04 1100.83,333.09 1101.17,308.15 1101.50,330.77 1101.83,312.69 1102.17,320.16 1102.50,309.19 1102.83,322.36 1103.17,309.65 1103.50,323.08 1103.83,315.36 1104.17,340.98 1104.50,310.95 1104.83,325.91 1105.17,312.20 1105.50,325.18 1105.83,312.49 1106.17,322.78 1106.50,313.14 1106.83,329.79 1107.17,312.92 1107.50,327.41 1107.83,320.58 1108.17,325.84 1108.50,314.91 1108.83,320.29 1109.17,309.06 1109.50,328.92 1109.83,322.94 1110.17,327.46 1110.50,308.45 1110.83,317.08 1111.17,311.46 1111.50,329.69 1111.83,312.65 1112.17,318.13 1112.50,310.27 1112.83,330.00 1113.17,312.33 1113.50,319.54 1113.83,308.12 1114.17,324.82 1114.50,307.88 1114.83,320.86 1115.17,314.05 1115.50,320.65 1115.83,315.15 1116.17,320.76 1116.50,307.92 1116.83,334.51 1117.17,313.16 1117.50,333.86 1117.83,313.96 1118.17,330.44 1118.50,307.90 1118.83,345.87 1119.17,309.44 1119.50,337.67 1119.83,313.05 1120.17,323.92 1120.50,313.86 1120.83,332.24 1121.17,310.49 1121.50,325.86 1121.83,321.93 1122.17,335.54 1122.50,318.57 1122.83,325.06 1123.17,323.26 1123.50,331.07 1123.83,309.98 1124.17,332.23 1124.50,314.58 1124.83,330.53 1125.17,311.96 1125.50,351.66 1125.83,310.97 1126.17,324.91 1126.50,314.81 1126.83,331.23 1127.17,308.61 1127.50,325.28 1127.83,308.15 1128.17,332.72 1128.50,312.41 1128.83,331.35 1129.17,308.78 1129.50,332.71 1129.83,314.03 1130.17,317.64 1130.50,313.15 1130.83,326.70 1131.17,312.44 1131.50,335.20 1131.83,309.15 1132.17,333.79 1132.50,323.05 1132.83,330.68 1133.17,314.16 1133.50,332.17 1133.83,319.30 1134.17,321.09 1134.50,314.13 1134.83,329.95 1135.17,314.63 1135.50,333.05 1135.83,316.88 1136.17,319.13 1136.50,310.93 1136.83,325.16 1137.17,313.74 1137.50,327.13 1137.83,311.27 1138.17,329.78 1138.50,310.41 1138.83,329.68 1139.17,315.55 1139.50,324.03 1139.83,314.51 1140.17,327.39 1140.50,320.51 1140.83,335.14 1141.17,309.97 1141.50,318.94 1141.83,309.53 1142.17,335.01 1142.50,317.12 1142.83,330.48 1143.17,312.24 1143.50,332.61 1143.83,309.00 1144.17,333.99 1144.50,314.46 1144.83,323.00 1145.17,321.88 1145.50,331.48 1145.83,320.51 1146.17,334.03 1146.50,309.05 1146.83,332.48 1147.17,312.07 1147.50,337.73 1147.83,309.09 1148.17,336.86 1148.50,308.94 1148.83,348.18 1149.17,314.49 1149.50,318.82 1149.83,316.98 1150.17,322.28 1150.50,309.13 1150.83,318.16 1151.17,310.02 1151.50,321.68 1151.83,306.08 1152.17,335.58 1152.50,306.16 1152.83,317.22 1153.17,309.52 1153.50,341.85 1153.83,303.55 1154.17,315.82 1154.50,303.90 1154.83,334.39 1155.17,305.09 1155.50,328.92 1155.83,305.84 1156.17,330.15 1156.50,304.15 1156.83,315.43 1157.17,302.43 1157.50,331.60 1157.83,299.94 1158.17,322.91 1158.50,305.17" fill="none" stroke="#5d6aa6" stroke-width="0.9" stroke-opacity="0.85" stroke-linejoin="bevel"/><path d="M872.00 276.57V311.30" stroke="#9a3848" stroke-width="1.3"/><path d="M929.30 295.89V311.30" stroke="#9a3848" stroke-width="1.3"/><path d="M1139.40 292.90V311.30" stroke="#9a3848" stroke-width="1.3"/><polyline points="776.50,281.47 776.83,319.15 777.17,282.25 777.50,318.55 777.83,282.52 778.17,323.22 778.50,287.73 778.83,328.98 779.17,282.23 779.50,317.45 779.83,293.91 780.17,326.60 780.50,295.64 780.83,313.44 781.17,289.10 781.50,317.50 781.83,290.68 782.17,310.94 782.50,288.92 782.83,327.12 783.17,297.28 783.50,314.67 783.83,294.46 784.17,332.51 784.50,296.84 784.83,312.54 785.17,301.71 785.50,327.56 785.83,299.83 786.17,317.76 786.50,308.61 786.83,317.25 787.17,301.16 787.50,330.10 787.83,305.59 788.17,325.63 788.50,302.83 788.83,317.99 789.17,303.08 789.50,326.74 789.83,299.89 790.17,314.69 790.50,305.58 790.83,328.63 791.17,315.27 791.50,330.67 791.83,304.41 792.17,316.09 792.50,306.11 792.83,332.41 793.17,309.37 793.50,331.26 793.83,309.88 794.17,332.58 794.50,304.93 794.83,328.14 795.17,311.93 795.50,322.49 795.83,311.47 796.17,331.19 796.50,312.69 796.83,332.71 797.17,310.37 797.50,331.79 797.83,322.92 798.17,328.49 798.50,319.98 798.83,335.03 799.17,312.62 799.50,324.15 799.83,310.16 800.17,337.02 800.50,315.19 800.83,317.82 801.17,315.17 801.50,322.63 801.83,312.94 802.17,326.45 802.50,309.82 802.83,323.18 803.17,309.40 803.50,323.57 803.83,308.59 804.17,321.39 804.50,308.87 804.83,329.84 805.17,310.97 805.50,324.51 805.83,307.90 806.17,329.71 806.50,309.83 806.83,320.40 807.17,314.70 807.50,343.25 807.83,316.95 808.17,325.03 808.50,308.44 808.83,347.40 809.17,321.81 809.50,324.09 809.83,312.02 810.17,323.97 810.50,313.84 810.83,318.83 811.17,308.74 811.50,331.20 811.83,314.31 812.17,320.18 812.50,310.01 812.83,334.25 813.17,311.96 813.50,329.18 813.83,310.65 814.17,320.38 814.50,307.98 814.83,337.10 815.17,316.86 815.50,331.35 815.83,322.12 816.17,337.24 816.50,322.08 816.83,342.87 817.17,311.99 817.50,321.04 817.83,308.16 818.17,327.91 818.50,319.03 818.83,334.04 819.17,313.29 819.50,326.98 819.83,310.73 820.17,321.36 820.50,314.80 820.83,335.06 821.17,311.93 821.50,329.95 821.83,311.07 822.17,318.20 822.50,311.86 822.83,322.81 823.17,309.21 823.50,333.33 823.83,308.60 824.17,326.63 824.50,309.41 824.83,320.04 825.17,319.32 825.50,321.85 825.83,315.93 826.17,321.19 826.50,314.03 826.83,334.84 827.17,314.21 827.50,320.36 827.83,310.17 828.17,318.10 828.50,318.53 828.83,322.66 829.17,310.55 829.50,326.16 829.83,313.00 830.17,319.11 830.50,313.77 830.83,326.90 831.17,318.44 831.50,325.22 831.83,315.12 832.17,329.46 832.50,309.34 832.83,323.45 833.17,314.83 833.50,317.94 833.83,308.42 834.17,335.12 834.50,312.08 834.83,327.89 835.17,317.69 835.50,335.07 835.83,321.59 836.17,323.53 836.50,312.92 836.83,335.58 837.17,318.68 837.50,333.66 837.83,311.36 838.17,329.19 838.50,321.50 838.83,324.53 839.17,311.37 839.50,320.01 839.83,313.59 840.17,319.06 840.50,312.96 840.83,333.23 841.17,307.86 841.50,332.80 841.83,309.89 842.17,320.52 842.50,312.17 842.83,329.41 843.17,321.53 843.50,318.88 843.83,318.72 844.17,327.34 844.50,322.73 844.83,336.98 845.17,311.20 845.50,334.72 845.83,315.65 846.17,318.56 846.50,314.62 846.83,321.92 847.17,312.88 847.50,328.85 847.83,316.93 848.17,334.00 848.50,311.93 848.83,333.71 849.17,314.09 849.50,339.22 849.83,309.33 850.17,324.72 850.50,312.30 850.83,317.41 851.17,309.31 851.50,322.34 851.83,309.51 852.17,319.19 852.50,308.75 852.83,321.91 853.17,312.29 853.50,330.68 853.83,320.10 854.17,324.83 854.50,313.59 854.83,330.76 855.17,310.39 855.50,329.69 855.83,307.85 856.17,321.98 856.50,317.71 856.83,332.44 857.17,321.58 857.50,335.71 857.83,313.45 858.17,327.24 858.50,308.10 858.83,324.54 859.17,317.88 859.50,336.82 859.83,319.03 860.17,327.49 860.50,314.68 860.83,326.85 861.17,310.86 861.50,324.19 861.83,311.13 862.17,331.62 862.50,322.98 862.83,322.13 863.17,312.41 863.50,336.71 863.83,307.93 864.17,319.01 864.50,312.11 864.83,332.71 865.17,311.41 865.50,328.06 865.83,308.01 866.17,335.37 866.50,310.66 866.83,336.67 867.17,319.30 867.50,328.32 867.83,313.37 868.17,321.65 868.50,311.36 868.83,322.55 869.17,315.16 869.50,324.81 869.83,312.64 870.17,326.06 870.50,310.90 870.83,333.82 871.17,313.46 871.50,319.56 871.83,320.88 872.17,324.85 872.50,314.56 872.83,335.96 873.17,310.27 873.50,330.03 873.83,320.21 874.17,320.39 874.50,315.93 874.83,321.84 875.17,313.73 875.50,320.99 875.83,312.57 876.17,331.01 876.50,311.22 876.83,328.90 877.17,315.32 877.50,336.03 877.83,311.11 878.17,331.56 878.50,321.41 878.83,336.06 879.17,313.05 879.50,331.89 879.83,314.26 880.17,330.17 880.50,314.45 880.83,318.74 881.17,308.30 881.50,321.13 881.83,313.05 882.17,318.40 882.50,320.05 882.83,330.23 883.17,312.37 883.50,326.08 883.83,309.37 884.17,326.10 884.50,314.00 884.83,331.92 885.17,315.16 885.50,326.00 885.83,308.10 886.17,336.42 886.50,311.24 886.83,336.06 887.17,309.82 887.50,324.62 887.83,314.25 888.17,332.67 888.50,313.68 888.83,321.92 889.17,312.38 889.50,323.83 889.83,311.63 890.17,323.09 890.50,308.49 890.83,323.95 891.17,308.95 891.50,319.36 891.83,308.17 892.17,323.05 892.50,309.33 892.83,334.72 893.17,309.78 893.50,334.28 893.83,313.80 894.17,317.68 894.50,314.88 894.83,324.34 895.17,322.80 895.50,325.66 895.83,322.38 896.17,333.25 896.50,313.57 896.83,333.11 897.17,313.94 897.50,322.07 897.83,312.99 898.17,327.82 898.50,313.38 898.83,330.67 899.17,311.23 899.50,333.18 899.83,314.95 900.17,329.78 900.50,311.38 900.83,317.25 901.17,323.27 901.50,330.06 901.83,309.37 902.17,334.49 902.50,314.15 902.83,319.76 903.17,311.47 903.50,332.23 903.83,316.29 904.17,340.21 904.50,309.00 904.83,332.16 905.17,318.96 905.50,317.97 905.83,310.94 906.17,321.41 906.50,312.21 906.83,320.65 907.17,313.77 907.50,334.49 907.83,309.11 908.17,336.18 908.50,313.04 908.83,330.30 909.17,319.75 909.50,317.73 909.83,309.12 910.17,346.35 910.50,318.19 910.83,337.53 911.17,307.91 911.50,325.00 911.83,313.15 912.17,331.58 912.50,312.80 912.83,332.44 913.17,313.83 913.50,318.19 913.83,311.12 914.17,320.63 914.50,322.51 914.83,323.09 915.17,313.98 915.50,325.48 915.83,321.93 916.17,329.33 916.50,314.78 916.83,327.16 917.17,310.49 917.50,329.76 917.83,312.85 918.17,346.02 918.50,310.09 918.83,324.08 919.17,320.33 919.50,324.28 919.83,314.53 920.17,321.43 920.50,309.16 920.83,321.88 921.17,308.58 921.50,327.39 921.83,314.27 922.17,327.07 922.50,309.98 922.83,318.19 923.17,322.61 923.50,325.82 923.83,310.11 924.17,330.27 924.50,314.42 924.83,319.04 925.17,311.26 925.50,332.28 925.83,308.53 926.17,325.30 926.50,314.41 926.83,319.18 927.17,313.52 927.50,333.91 927.83,323.08 928.17,317.32 928.50,308.30 928.83,323.86 929.17,309.81 929.50,321.11 929.83,319.07 930.17,329.75 930.50,318.59 930.83,325.99 931.17,312.84 931.50,342.29 931.83,314.24 932.17,328.02 932.50,312.25 932.83,322.06 933.17,309.71 933.50,320.40 933.83,308.93 934.17,326.03 934.50,308.56 934.83,328.80 935.17,308.57 935.50,353.56 935.83,308.60 936.17,322.19 936.50,313.05 936.83,335.17 937.17,311.98 937.50,336.67 937.83,310.13 938.17,331.41 938.50,322.75 938.83,317.74 939.17,310.35 939.50,321.08 939.83,313.67 940.17,319.05 940.50,314.59 940.83,326.62 941.17,321.13 941.50,331.03 941.83,314.86 942.17,329.53 942.50,312.66 942.83,351.12 943.17,308.61 943.50,318.42 943.83,308.02 944.17,331.64 944.50,308.43 944.83,320.41 945.17,312.68 945.50,319.54 945.83,317.56 946.17,319.53 946.50,316.70 946.83,319.11 947.17,308.82 947.50,323.34 947.83,308.31 948.17,333.13 948.50,313.03 948.83,334.00 949.17,313.57 949.50,330.04 949.83,310.38 950.17,333.01 950.50,313.08 950.83,332.02 951.17,314.33 951.50,326.81 951.83,317.86 952.17,332.56 952.50,320.75 952.83,332.66 953.17,313.24 953.50,319.18 953.83,319.13 954.17,329.79 954.50,308.38 954.83,326.24 955.17,310.50 955.50,321.54 955.83,311.46 956.17,323.59 956.50,311.43 956.83,321.61 957.17,314.09 957.50,328.63 957.83,309.55 958.17,332.87 958.50,318.04 958.83,337.02 959.17,310.86 959.50,319.68 959.83,323.21 960.17,328.75 960.50,312.02 960.83,336.25 961.17,308.54 961.50,321.36 961.83,320.51 962.17,347.21 962.50,310.68 962.83,324.55 963.17,309.72 963.50,330.52 963.83,306.07 964.17,318.58 964.50,303.68 964.83,329.45 965.17,304.56 965.50,312.57 965.83,296.81 966.17,331.25 966.50,296.13 966.83,324.87 967.17,298.82 967.50,333.23 967.83,293.60 968.17,328.24 968.50,296.04 968.83,322.51 969.17,290.92 969.50,312.68 969.83,305.36 970.17,332.71 970.50,301.57 970.83,322.64 971.17,300.63 971.50,318.35 971.83,307.53 972.17,329.54 972.50,313.95 972.83,333.53 973.17,313.72 973.50,328.49 973.83,307.90 974.17,333.52 974.50,317.01 974.83,332.07 975.17,320.96 975.50,318.63 975.83,309.98 976.17,334.57 976.50,308.32 976.83,322.77 977.17,320.41 977.50,336.03 977.83,308.73 978.17,327.00 978.50,314.91 978.83,336.90 979.17,314.20 979.50,347.24 979.83,312.16 980.17,323.12 980.50,313.38 980.83,334.70 981.17,313.79 981.50,329.36 981.83,312.44 982.17,331.70 982.50,323.00 982.83,342.85 983.17,311.09 983.50,331.58 983.83,310.31 984.17,323.48 984.50,310.34 984.83,332.89 985.17,319.44 985.50,336.51 985.83,312.46 986.17,331.96 986.50,314.14 986.83,334.30 987.17,322.52 987.50,329.01 987.83,314.20 988.17,326.30 988.50,319.77 988.83,336.45 989.17,318.82 989.50,328.04 989.83,312.89 990.17,346.76 990.50,308.66 990.83,323.92 991.17,313.93 991.50,317.99 991.83,312.61 992.17,321.78 992.50,310.64 992.83,329.15 993.17,313.26 993.50,329.85 993.83,322.13 994.17,331.36 994.50,312.63 994.83,333.77 995.17,313.62 995.50,337.73 995.83,311.26 996.17,327.53 996.50,310.46 996.83,326.14 997.17,309.11 997.50,330.57 997.83,308.70 998.17,323.36 998.50,310.19 998.83,334.45 999.17,310.68 999.50,330.10 999.83,313.19 1000.17,332.84 1000.50,313.46 1000.83,327.12 1001.17,322.74 1001.50,323.16 1001.83,314.48 1002.17,327.80 1002.50,314.11 1002.83,336.64 1003.17,313.43 1003.50,329.63 1003.83,309.97 1004.17,330.98 1004.50,312.83 1004.83,320.60 1005.17,311.08 1005.50,324.85 1005.83,309.11 1006.17,329.95 1006.50,321.68 1006.83,343.47 1007.17,308.29 1007.50,323.52 1007.83,312.19 1008.17,318.43 1008.50,316.81 1008.83,336.87 1009.17,313.19 1009.50,335.26 1009.83,318.38 1010.17,330.02 1010.50,313.01 1010.83,331.88 1011.17,312.40 1011.50,317.44 1011.83,312.41 1012.17,321.19 1012.50,322.39 1012.83,332.55 1013.17,320.40 1013.50,343.74 1013.83,314.25 1014.17,333.04 1014.50,311.72 1014.83,336.69 1015.17,314.84 1015.50,336.13 1015.83,313.96 1016.17,333.56 1016.50,308.84 1016.83,321.04 1017.17,318.31 1017.50,324.85 1017.83,313.25 1018.17,317.17 1018.50,312.01 1018.83,334.11 1019.17,322.28 1019.50,330.32 1019.83,309.69 1020.17,337.53 1020.50,313.75 1020.83,344.27 1021.17,309.27 1021.50,329.49 1021.83,309.32 1022.17,317.34 1022.50,314.57 1022.83,323.15 1023.17,313.45 1023.50,343.59 1023.83,313.63 1024.17,324.15 1024.50,309.26 1024.83,330.42 1025.17,313.24 1025.50,335.80 1025.83,312.82 1026.17,322.37 1026.50,311.24 1026.83,335.56 1027.17,314.26 1027.50,337.55 1027.83,311.57 1028.17,326.63 1028.50,315.27 1028.83,322.14 1029.17,314.52 1029.50,317.82 1029.83,313.68 1030.17,334.07 1030.50,313.28 1030.83,331.08 1031.17,313.95 1031.50,334.68 1031.83,310.58 1032.17,333.36 1032.50,310.72 1032.83,324.74 1033.17,311.55 1033.50,320.41 1033.83,310.17 1034.17,329.07 1034.50,317.85 1034.83,327.08 1035.17,315.08 1035.50,325.47 1035.83,310.88 1036.17,328.05 1036.50,307.90 1036.83,322.50 1037.17,307.93 1037.50,335.13 1037.83,307.92 1038.17,320.36 1038.50,310.47 1038.83,321.24 1039.17,311.50 1039.50,319.74 1039.83,310.01 1040.17,328.35 1040.50,311.32 1040.83,331.96 1041.17,318.27 1041.50,327.59 1041.83,313.52 1042.17,321.79 1042.50,311.22 1042.83,334.61 1043.17,323.04 1043.50,319.85 1043.83,321.70 1044.17,320.17 1044.50,310.71 1044.83,317.30 1045.17,313.78 1045.50,322.69 1045.83,313.85 1046.17,337.43 1046.50,312.79 1046.83,331.98 1047.17,310.82 1047.50,335.10 1047.83,310.14 1048.17,335.35 1048.50,308.29 1048.83,333.69 1049.17,307.89 1049.50,330.29 1049.83,313.01 1050.17,324.68 1050.50,312.15 1050.83,328.29 1051.17,311.54 1051.50,323.19 1051.83,313.57 1052.17,319.69 1052.50,313.18 1052.83,328.33 1053.17,308.35 1053.50,325.30 1053.83,319.52 1054.17,328.62 1054.50,308.19 1054.83,323.84 1055.17,313.50 1055.50,319.22 1055.83,313.44 1056.17,320.77 1056.50,308.97 1056.83,335.69 1057.17,320.03 1057.50,322.78 1057.83,310.32 1058.17,318.09 1058.50,315.15 1058.83,330.26 1059.17,311.85 1059.50,325.22 1059.83,308.07 1060.17,329.57 1060.50,309.13 1060.83,317.10 1061.17,314.83 1061.50,324.17 1061.83,313.69 1062.17,330.09 1062.50,314.26 1062.83,336.02 1063.17,314.08 1063.50,322.39 1063.83,313.43 1064.17,321.69 1064.50,314.43 1064.83,339.69 1065.17,308.26 1065.50,346.70 1065.83,311.32 1066.17,321.41 1066.50,313.07 1066.83,326.00 1067.17,318.66 1067.50,321.66 1067.83,313.48 1068.17,359.40 1068.50,311.95 1068.83,320.14 1069.17,314.55 1069.50,317.66 1069.83,311.40 1070.17,319.87 1070.50,308.12 1070.83,349.43 1071.17,309.21 1071.50,334.51 1071.83,322.36 1072.17,317.75 1072.50,310.52 1072.83,345.81 1073.17,314.74 1073.50,318.73 1073.83,312.87 1074.17,319.40 1074.50,308.25 1074.83,319.04 1075.17,312.38 1075.50,332.40 1075.83,312.58 1076.17,330.33 1076.50,312.11 1076.83,340.02 1077.17,314.86 1077.50,329.48 1077.83,319.95 1078.17,327.73 1078.50,313.60 1078.83,337.56 1079.17,312.29 1079.50,343.36 1079.83,308.14 1080.17,330.11 1080.50,313.07 1080.83,331.23 1081.17,311.61 1081.50,336.65 1081.83,314.63 1082.17,321.28 1082.50,312.14 1082.83,331.83 1083.17,314.32 1083.50,330.96 1083.83,312.95 1084.17,324.46 1084.50,314.90 1084.83,342.93 1085.17,311.20 1085.50,337.29 1085.83,308.34 1086.17,337.63 1086.50,309.82 1086.83,317.39 1087.17,316.19 1087.50,322.19 1087.83,312.50 1088.17,335.31 1088.50,312.93 1088.83,335.35 1089.17,309.09 1089.50,335.41 1089.83,314.44 1090.17,326.15 1090.50,319.56 1090.83,320.38 1091.17,314.40 1091.50,337.10 1091.83,312.10 1092.17,318.54 1092.50,311.64 1092.83,321.63 1093.17,314.54 1093.50,325.62 1093.83,313.81 1094.17,330.51 1094.50,310.90 1094.83,325.86 1095.17,309.03 1095.50,327.80 1095.83,307.99 1096.17,332.91 1096.50,313.37 1096.83,332.43 1097.17,314.85 1097.50,322.92 1097.83,312.09 1098.17,317.55 1098.50,308.53 1098.83,332.96 1099.17,320.55 1099.50,337.02 1099.83,310.10 1100.17,330.86 1100.50,314.19 1100.83,321.07 1101.17,314.59 1101.50,333.63 1101.83,311.33 1102.17,321.92 1102.50,310.97 1102.83,323.48 1103.17,312.60 1103.50,331.73 1103.83,308.91 1104.17,332.59 1104.50,315.17 1104.83,331.68 1105.17,318.91 1105.50,331.85 1105.83,313.25 1106.17,334.44 1106.50,308.90 1106.83,326.49 1107.17,309.84 1107.50,318.72 1107.83,309.53 1108.17,351.13 1108.50,312.61 1108.83,328.38 1109.17,312.56 1109.50,327.28 1109.83,311.09 1110.17,318.09 1110.50,314.50 1110.83,336.26 1111.17,318.17 1111.50,317.28 1111.83,313.01 1112.17,323.96 1112.50,318.12 1112.83,323.57 1113.17,308.93 1113.50,336.15 1113.83,318.53 1114.17,327.42 1114.50,313.85 1114.83,327.69 1115.17,314.74 1115.50,317.62 1115.83,320.61 1116.17,323.22 1116.50,308.31 1116.83,318.60 1117.17,308.91 1117.50,344.79 1117.83,310.91 1118.17,325.06 1118.50,318.60 1118.83,337.09 1119.17,314.49 1119.50,337.25 1119.83,315.09 1120.17,326.99 1120.50,310.99 1120.83,337.74 1121.17,314.82 1121.50,320.50 1121.83,312.28 1122.17,337.44 1122.50,309.57 1122.83,326.86 1123.17,312.82 1123.50,332.90 1123.83,322.00 1124.17,327.83 1124.50,309.47 1124.83,324.20 1125.17,313.38 1125.50,319.60 1125.83,320.60 1126.17,322.71 1126.50,310.29 1126.83,336.12 1127.17,321.37 1127.50,317.26 1127.83,312.55 1128.17,317.25 1128.50,316.11 1128.83,330.75 1129.17,309.42 1129.50,325.47 1129.83,309.78 1130.17,337.46 1130.50,311.60 1130.83,318.82 1131.17,315.30 1131.50,318.47 1131.83,312.77 1132.17,322.96 1132.50,322.13 1132.83,319.48 1133.17,309.89 1133.50,330.04 1133.83,314.43 1134.17,336.27 1134.50,313.94 1134.83,347.31 1135.17,318.53 1135.50,326.00 1135.83,309.63 1136.17,336.06 1136.50,320.53 1136.83,318.62 1137.17,320.34 1137.50,331.66 1137.83,309.40 1138.17,325.27 1138.50,309.00 1138.83,318.21 1139.17,316.36 1139.50,336.68 1139.83,316.60 1140.17,337.34 1140.50,313.68 1140.83,324.24 1141.17,323.24 1141.50,336.89 1141.83,313.38 1142.17,327.96 1142.50,310.66 1142.83,319.45 1143.17,310.98 1143.50,328.22 1143.83,312.84 1144.17,318.38 1144.50,308.95 1144.83,327.22 1145.17,307.97 1145.50,322.78 1145.83,313.57 1146.17,318.14 1146.50,317.05 1146.83,326.17 1147.17,311.61 1147.50,329.91 1147.83,315.31 1148.17,325.86 1148.50,310.60 1148.83,327.45 1149.17,311.72 1149.50,331.95 1149.83,316.02 1150.17,320.59 1150.50,309.36 1150.83,327.32 1151.17,310.00 1151.50,326.83 1151.83,308.68 1152.17,326.29 1152.50,317.45 1152.83,319.80 1153.17,303.16 1153.50,319.65 1153.83,304.25 1154.17,332.24 1154.50,302.58 1154.83,316.58 1155.17,307.59 1155.50,318.96 1155.83,302.30 1156.17,321.74 1156.50,305.48 1156.83,314.47 1157.17,298.54 1157.50,320.16 1157.83,298.49 1158.17,331.67 1158.50,303.32" fill="none" stroke="#bf2f3e" stroke-width="0.9" stroke-opacity="0.8" stroke-linejoin="bevel"/><path d="M795.60 166.86V311.30" stroke="#9a3848" stroke-width="1.3"/><path d="M814.70 281.98V311.30" stroke="#9a3848" stroke-width="1.3"/><path d="M833.80 264.61V311.30" stroke="#9a3848" stroke-width="1.3"/><path d="M852.90 290.37V311.30" stroke="#9a3848" stroke-width="1.3"/><path d="M872.00 282.55V311.30" stroke="#9a3848" stroke-width="1.3"/><path d="M891.10 289.11V311.30" stroke="#9a3848" stroke-width="1.3"/><path d="M910.20 280.82V311.30" stroke="#9a3848" stroke-width="1.3"/><path d="M929.30 298.65V311.30" stroke="#9a3848" stroke-width="1.3"/><path d="M948.40 286.57V311.30" stroke="#9a3848" stroke-width="1.3"/><path d="M967.50 290.60V311.30" stroke="#9a3848" stroke-width="1.3"/><path d="M986.60 294.05V311.30" stroke="#9a3848" stroke-width="1.3"/><path d="M1005.70 302.90V311.30" stroke="#9a3848" stroke-width="1.3"/><path d="M1024.80 286.57V311.30" stroke="#9a3848" stroke-width="1.3"/><path d="M1043.90 304.40V311.30" stroke="#9a3848" stroke-width="1.3"/><path d="M1063.00 295.89V311.30" stroke="#9a3848" stroke-width="1.3"/><path d="M1082.10 304.40V311.30" stroke="#9a3848" stroke-width="1.3"/><path d="M1101.20 295.43V311.30" stroke="#9a3848" stroke-width="1.3"/><path d="M1120.30 302.90V311.30" stroke="#9a3848" stroke-width="1.3"/><path d="M1139.40 296.35V311.30" stroke="#9a3848" stroke-width="1.3"/><path d="M1158.50 298.65V311.30" stroke="#9a3848" stroke-width="1.3"/></g>
</svg>
<div class="t" style="left:758.45px;top:133.10px;font-size:6.8px;font-family:'Liberation Sans';font-weight:normal;color:#2a2a2a;transform:scaleX(1.3330);-webkit-text-stroke:0.15px currentColor;">+40</div>
<div class="t" style="left:758.45px;top:144.60px;font-size:6.8px;font-family:'Liberation Sans';font-weight:normal;color:#2a2a2a;transform:scaleX(1.3330);-webkit-text-stroke:0.15px currentColor;">+30</div>
<div class="t" style="left:758.45px;top:156.10px;font-size:6.8px;font-family:'Liberation Sans';font-weight:normal;color:#2a2a2a;transform:scaleX(1.3330);-webkit-text-stroke:0.15px currentColor;">+20</div>
<div class="t" style="left:758.45px;top:167.60px;font-size:6.8px;font-family:'Liberation Sans';font-weight:normal;color:#2a2a2a;transform:scaleX(1.3330);-webkit-text-stroke:0.15px currentColor;">+10</div>
<div class="t" style="left:768.78px;top:179.10px;font-size:6.8px;font-family:'Liberation Sans';font-weight:normal;color:#2a2a2a;transform:scaleX(1.3330);-webkit-text-stroke:0.15px currentColor;">0</div>
<div class="t" style="left:760.72px;top:190.60px;font-size:6.8px;font-family:'Liberation Sans';font-weight:normal;color:#2a2a2a;transform:scaleX(1.3330);-webkit-text-stroke:0.15px currentColor;">-10</div>
<div class="t" style="left:760.72px;top:202.10px;font-size:6.8px;font-family:'Liberation Sans';font-weight:normal;color:#2a2a2a;transform:scaleX(1.3330);-webkit-text-stroke:0.15px currentColor;">-20</div>
<div class="t" style="left:760.72px;top:213.60px;font-size:6.8px;font-family:'Liberation Sans';font-weight:normal;color:#2a2a2a;transform:scaleX(1.3330);-webkit-text-stroke:0.15px currentColor;">-30</div>
<div class="t" style="left:760.72px;top:225.10px;font-size:6.8px;font-family:'Liberation Sans';font-weight:normal;color:#2a2a2a;transform:scaleX(1.3330);-webkit-text-stroke:0.15px currentColor;">-40</div>
<div class="t" style="left:760.72px;top:236.60px;font-size:6.8px;font-family:'Liberation Sans';font-weight:normal;color:#2a2a2a;transform:scaleX(1.3330);-webkit-text-stroke:0.15px currentColor;">-50</div>
<div class="t" style="left:760.72px;top:248.10px;font-size:6.8px;font-family:'Liberation Sans';font-weight:normal;color:#2a2a2a;transform:scaleX(1.3330);-webkit-text-stroke:0.15px currentColor;">-60</div>
<div class="t" style="left:760.72px;top:259.60px;font-size:6.8px;font-family:'Liberation Sans';font-weight:normal;color:#2a2a2a;transform:scaleX(1.3330);-webkit-text-stroke:0.15px currentColor;">-70</div>
<div class="t" style="left:760.72px;top:271.10px;font-size:6.8px;font-family:'Liberation Sans';font-weight:normal;color:#2a2a2a;transform:scaleX(1.3330);-webkit-text-stroke:0.15px currentColor;">-80</div>
<div class="t" style="left:760.72px;top:282.60px;font-size:6.8px;font-family:'Liberation Sans';font-weight:normal;color:#2a2a2a;transform:scaleX(1.3330);-webkit-text-stroke:0.15px currentColor;">-90</div>
<div class="t" style="left:755.68px;top:294.10px;font-size:6.8px;font-family:'Liberation Sans';font-weight:normal;color:#2a2a2a;transform:scaleX(1.3330);-webkit-text-stroke:0.15px currentColor;">-100</div>
<div class="t" style="left:756.36px;top:305.60px;font-size:6.8px;font-family:'Liberation Sans';font-weight:normal;color:#2a2a2a;transform:scaleX(1.3330);-webkit-text-stroke:0.15px currentColor;">-110</div>
<div class="t" style="left:755.68px;top:317.10px;font-size:6.8px;font-family:'Liberation Sans';font-weight:normal;color:#2a2a2a;transform:scaleX(1.3330);-webkit-text-stroke:0.15px currentColor;">-120</div>
<div class="t" style="left:755.68px;top:328.60px;font-size:6.8px;font-family:'Liberation Sans';font-weight:normal;color:#2a2a2a;transform:scaleX(1.3330);-webkit-text-stroke:0.15px currentColor;">-130</div>
<div class="t" style="left:755.68px;top:340.10px;font-size:6.8px;font-family:'Liberation Sans';font-weight:normal;color:#2a2a2a;transform:scaleX(1.3330);-webkit-text-stroke:0.15px currentColor;">-140</div>
<div class="t" style="left:755.68px;top:351.60px;font-size:6.8px;font-family:'Liberation Sans';font-weight:normal;color:#2a2a2a;transform:scaleX(1.3330);-webkit-text-stroke:0.15px currentColor;">-150</div>
<div class="t" style="left:755.68px;top:363.10px;font-size:6.8px;font-family:'Liberation Sans';font-weight:normal;color:#2a2a2a;transform:scaleX(1.3330);-webkit-text-stroke:0.15px currentColor;">-160</div>
<div class="t" style="left:809.63px;top:369.00px;font-size:6.8px;font-family:'Liberation Sans';font-weight:normal;color:#2a2a2a;transform:scaleX(1.3330);-webkit-text-stroke:0.15px currentColor;">2k</div>
<div class="t" style="left:847.97px;top:369.00px;font-size:6.8px;font-family:'Liberation Sans';font-weight:normal;color:#2a2a2a;transform:scaleX(1.3330);-webkit-text-stroke:0.15px currentColor;">4k</div>
<div class="t" style="left:886.03px;top:369.00px;font-size:6.8px;font-family:'Liberation Sans';font-weight:normal;color:#2a2a2a;transform:scaleX(1.3330);-webkit-text-stroke:0.15px currentColor;">6k</div>
<div class="t" style="left:924.30px;top:369.00px;font-size:6.8px;font-family:'Liberation Sans';font-weight:normal;color:#2a2a2a;transform:scaleX(1.3330);-webkit-text-stroke:0.15px currentColor;">8k</div>
<div class="t" style="left:959.84px;top:369.00px;font-size:6.8px;font-family:'Liberation Sans';font-weight:normal;color:#2a2a2a;transform:scaleX(1.3330);-webkit-text-stroke:0.15px currentColor;">10k</div>
<div class="t" style="left:998.04px;top:369.00px;font-size:6.8px;font-family:'Liberation Sans';font-weight:normal;color:#2a2a2a;transform:scaleX(1.3330);-webkit-text-stroke:0.15px currentColor;">12k</div>
<div class="t" style="left:1036.24px;top:369.00px;font-size:6.8px;font-family:'Liberation Sans';font-weight:normal;color:#2a2a2a;transform:scaleX(1.3330);-webkit-text-stroke:0.15px currentColor;">14k</div>
<div class="t" style="left:1074.44px;top:369.00px;font-size:6.8px;font-family:'Liberation Sans';font-weight:normal;color:#2a2a2a;transform:scaleX(1.3330);-webkit-text-stroke:0.15px currentColor;">16k</div>
<div class="t" style="left:1112.64px;top:369.00px;font-size:6.8px;font-family:'Liberation Sans';font-weight:normal;color:#2a2a2a;transform:scaleX(1.3330);-webkit-text-stroke:0.15px currentColor;">18k</div>
<div class="t" style="left:1150.91px;top:369.00px;font-size:6.8px;font-family:'Liberation Sans';font-weight:normal;color:#2a2a2a;transform:scaleX(1.3330);-webkit-text-stroke:0.15px currentColor;">20k</div>
<div class="t" style="left:937.58px;top:376.00px;font-size:6.8px;font-family:'Liberation Sans';font-weight:normal;color:#333;transform:scaleX(1.2594);">Frequency (Hz)</div>
<div class="t" style="left:649.3px;top:248.0px;width:200px;text-align:center;font-size:7px;color:#333;transform-origin:50% 50%;transform:rotate(-90deg) scale(0.91,1.333);">Level (dBrA)</div>
<div class="t" style="left:961.67px;top:128.89px;font-size:6.2px;font-family:'Liberation Serif';font-weight:bold;color:#222;transform:scaleX(0.8261);">F F T</div>
<div class="a" style="left:298px;top:385.7px;width:871px;height:4.6px;background:#000"></div>
<div class="a" style="left:730.7px;top:387px;width:18.3px;height:2.7px;background:repeating-linear-gradient(90deg,#f0a040 0 2px,#f8d8a8 2px 3px);border-radius:1px"></div>
<div class="a" style="left:298px;top:390.3px;width:871px;height:14px;background:#d6d6d6"></div>
<div class="a" style="left:298px;top:390.3px;width:871px;height:1.5px;background:#e4e4e4"></div>
<div class="a" style="left:298px;top:404px;width:871px;height:1.5px;background:#b0b0b0"></div>
<svg style="left:298px;top:390px" width="240" height="15" viewBox="298 390 240 15">
<rect x="300.2" y="392.9" width="11.4" height="8.1" fill="#2e4053"/><path d="M305.9 393.6V400.3M301.2 396.95H310.6" stroke="#fff" stroke-width="1.3"/><path d="M365.6 396.6h3.4l-1.7 1.9z" fill="#333"/><rect x="375.2" y="392" width="0.8" height="10" fill="#c0c0c0"/><rect x="378.6" y="393.3" width="10.8" height="7.6" fill="#c9d2da" stroke="#2e4053" stroke-width="0.9"/><rect x="383.6" y="393.3" width="6.2" height="7.6" fill="#2e4053"/><path d="M383.2 397.1H388.4M386.6 395.4L388.6 397.1L386.6 398.8" stroke="#fff" stroke-width="1.1" fill="none"/><rect x="471.8" y="392" width="0.8" height="10" fill="#c0c0c0"/><rect x="475" y="392.9" width="11.5" height="8.1" fill="#2e4053"/><path d="M478.8 394.3V399.6L483.6 396.95Z" fill="#fff"/>
</svg>
<div class="t" style="left:314.00px;top:392.64px;font-size:8.6px;font-family:'Liberation Sans';font-weight:normal;color:#1c1c1c;transform:scaleX(1.1607);-webkit-text-stroke:0.2px currentColor;">Add Meter</div>
<div class="t" style="left:392.41px;top:392.64px;font-size:8.6px;font-family:'Liberation Sans';font-weight:normal;color:#1c1c1c;transform:scaleX(1.0962);-webkit-text-stroke:0.2px currentColor;">Save Meter Data</div>
<div class="t" style="left:488.66px;top:392.64px;font-size:8.6px;font-family:'Liberation Sans';font-weight:normal;color:#1c1c1c;transform:scaleX(1.1046);-webkit-text-stroke:0.2px currentColor;">Regulate</div>
<div class="a" style="left:1166px;top:396.2px;width:3px;height:1.8px;background:#c4dbee"></div>
<div class="a" style="left:1166px;top:398px;width:3px;height:2px;background:#3e5262"></div>
<div class="a" style="left:298px;top:405px;width:871px;height:185px;background:#b2b2b2"></div>
<div class="a" style="left:1161px;top:405.5px;width:8px;height:181px;background:#c6c6c6"></div>
<div class="a" style="left:298px;top:586px;width:871px;height:4px;background:#b8b8b8"></div>
<div class="a" style="left:300.5px;top:405.5px;width:428.5px;height:88.8px;background:#fff"></div>
<div class="a" style="left:300.5px;top:419.3px;width:428.5px;height:1px;background:#d2d2d2"></div>
<div class="t" style="left:303.38px;top:409.16px;font-size:9.1px;font-family:'Liberation Sans';font-weight:bold;color:#161616;transform:scaleX(1.2580);-webkit-text-stroke:0.40px currentColor;">RMS Level</div>
<svg style="left:300.5px;top:405.5px" width="428.5" height="90" viewBox="300.5 405.5 428.5 90"><rect x="366.7" y="406.6" width="54.5" height="12.6" fill="#fff" stroke="#7aaedc" stroke-width="1"/><rect x="412.09999999999997" y="407.1" width="9.1" height="11.6" fill="#cfe3f5" stroke="#7aaedc" stroke-width="1"/><path d="M415.40000000000003 411.7h3.4l-1.7 1.9z" fill="#222"/><rect x="424.0" y="408.1" width="11.8" height="8.8" rx="0.6" fill="#283f50"/><rect x="425.4" y="410.1" width="9" height="1.1" fill="#e8eef2"/><rect x="425.4" y="414.1" width="9" height="1.1" fill="#e8eef2"/><path d="M425.8 413.5l2.2 -1.8h1.6l-1.6 1.8h3.2l2.2 -1.8" stroke="#9fb0bc" stroke-width="0.7" fill="none"/><path d="M437.8 411.7h3.4l-1.7 1.9z" fill="#222"/><rect x="446.1" y="408.1" width="11.9" height="8.7" fill="#283f50"/><polygon points="456.40,412.40 454.93,413.34 455.11,414.80 453.21,414.66 452.00,415.80 450.79,414.66 448.89,414.80 449.07,413.34 447.60,412.40 449.07,411.46 448.89,410.00 450.79,410.14 452.00,409.00 453.21,410.14 455.11,410.00 454.93,411.46" fill="#fff"/><ellipse cx="452.0" cy="412.4" rx="1.5" ry="1.15" fill="#283f50"/><rect x="691.5" y="408.0" width="0.9" height="9.5" fill="#d0d0d0"/><path d="M700.70 409.70H697.80V415.00H705.50V413.20" fill="none" stroke="#1d3550" stroke-width="1.4"/><path d="M700.10 413.80L703.70 411.00" stroke="#1d3550" stroke-width="1.4"/><path d="M702.00 409.00H706.20V412.60Z" fill="#1d3550"/><path d="M715.3 409.9l7.2 5.6M715.3 415.5l7.2 -5.6" stroke="#1a1a1a" stroke-width="1.3" stroke-linecap="round"/><rect x="302.5" y="456.3" width="107.5" height="1" fill="#c4c4c4"/><path d="M400.4 436.4h7.4l-3.7 5.7z" fill="#111"/><path d="M400.4 471.7h7.4l-3.7 5.7z" fill="#111"/><rect x="410.0" y="422.5" width="312.0" height="69.0" fill="#000"/><rect x="410.0" y="445.5" width="311.4" height="22.5" fill="#c4c4c4"/><rect x="410.0" y="456.5" width="311.4" height="1.9" fill="#ececec"/><rect x="410.0" y="447.1" width="311.4" height="9.20" fill="#878787"/><rect x="410.0" y="445.7" width="242.60" height="10.80" fill="#10f010"/><rect x="410.0" y="449.2" width="286.30" height="2.0" fill="#000"/><rect x="410.0" y="458.7" width="311.4" height="8.20" fill="#878787"/><rect x="410.0" y="458.4" width="242.60" height="9.50" fill="#10f010"/><rect x="410.0" y="462.0" width="286.30" height="1.8" fill="#000"/></svg>
<div class="t" style="left:369.50px;top:409.51px;font-size:8.1px;font-family:'Liberation Sans';font-weight:normal;color:#444;transform:scaleX(1.1010);">W</div>
<div class="t" style="left:305.83px;top:431.92px;font-size:17.6px;font-family:'Liberation Sans';font-weight:normal;color:#262626;transform:scaleX(1.1773);">Ch1</div>
<div class="t" style="left:305.79px;top:466.52px;font-size:17.6px;font-family:'Liberation Sans';font-weight:normal;color:#262626;transform:scaleX(1.2261);">Ch2</div>
<div class="t" style="left:634.59px;top:426.26px;font-size:18.0px;font-family:'Liberation Sans';font-weight:normal;color:#2aea2a;transform:scaleX(1.2350);">5.44</div>
<div class="t" style="left:696.60px;top:426.26px;font-size:18.0px;font-family:'Liberation Sans';font-weight:normal;color:#2aea2a;transform:scaleX(1.2357);">W</div>
<div class="t" style="left:634.59px;top:470.86px;font-size:18.0px;font-family:'Liberation Sans';font-weight:normal;color:#2aea2a;transform:scaleX(1.2350);">5.44</div>
<div class="t" style="left:696.60px;top:470.86px;font-size:18.0px;font-family:'Liberation Sans';font-weight:normal;color:#2aea2a;transform:scaleX(1.2357);">W</div>
<div class="a" style="left:733.0px;top:405.5px;width:428.0px;height:88.8px;background:#fff"></div>
<div class="a" style="left:733.0px;top:419.3px;width:428.0px;height:1px;background:#d2d2d2"></div>
<div class="t" style="left:736.80px;top:409.16px;font-size:9.1px;font-family:'Liberation Sans';font-weight:bold;color:#161616;transform:scaleX(1.3155);-webkit-text-stroke:0.40px currentColor;">THD+N Ratio</div>
<svg style="left:733.0px;top:405.5px" width="428.0" height="90" viewBox="733.0 405.5 428.0 90"><path d="M864.8 411.7h3.4l-1.7 1.9z" fill="#222"/><rect x="873.2" y="408.1" width="11.8" height="8.8" rx="0.6" fill="#283f50"/><rect x="874.6" y="410.1" width="9" height="1.1" fill="#e8eef2"/><rect x="874.6" y="414.1" width="9" height="1.1" fill="#e8eef2"/><path d="M875.0 413.5l2.2 -1.8h1.6l-1.6 1.8h3.2l2.2 -1.8" stroke="#9fb0bc" stroke-width="0.7" fill="none"/><path d="M887.0 411.7h3.4l-1.7 1.9z" fill="#222"/><rect x="895.4" y="408.1" width="11.9" height="8.7" fill="#283f50"/><polygon points="905.70,412.40 904.23,413.34 904.41,414.80 902.51,414.66 901.30,415.80 900.09,414.66 898.19,414.80 898.37,413.34 896.90,412.40 898.37,411.46 898.19,410.00 900.09,410.14 901.30,409.00 902.51,410.14 904.41,410.00 904.23,411.46" fill="#fff"/><ellipse cx="901.3" cy="412.4" rx="1.5" ry="1.15" fill="#283f50"/><rect x="1123.5" y="408.0" width="0.9" height="9.5" fill="#d0d0d0"/><path d="M1132.70 409.70H1129.80V415.00H1137.50V413.20" fill="none" stroke="#1d3550" stroke-width="1.4"/><path d="M1132.10 413.80L1135.70 411.00" stroke="#1d3550" stroke-width="1.4"/><path d="M1134.00 409.00H1138.20V412.60Z" fill="#1d3550"/><path d="M1147.3 409.9l7.2 5.6M1147.3 415.5l7.2 -5.6" stroke="#1a1a1a" stroke-width="1.3" stroke-linecap="round"/><rect x="735.0" y="456.3" width="107.5" height="1" fill="#c4c4c4"/><path d="M832.9 436.4h7.4l-3.7 5.7z" fill="#111"/><path d="M832.9 471.7h7.4l-3.7 5.7z" fill="#111"/><rect x="842.5" y="422.5" width="312.0" height="69.0" fill="#000"/><rect x="842.5" y="445.5" width="311.4" height="22.5" fill="#c4c4c4"/><rect x="842.5" y="456.5" width="311.4" height="1.9" fill="#ececec"/><rect x="842.5" y="447.1" width="311.4" height="9.20" fill="#878787"/><rect x="842.5" y="445.7" width="99.00" height="10.80" fill="#10f010"/><rect x="854.5" y="449.2" width="299.00" height="2.0" fill="#000"/><rect x="842.5" y="458.7" width="311.4" height="8.20" fill="#878787"/><rect x="842.5" y="458.4" width="92.50" height="9.50" fill="#10f010"/><rect x="888.7" y="462.0" width="264.80" height="1.8" fill="#000"/></svg>
<div class="t" style="left:818.80px;top:409.51px;font-size:8.1px;font-family:'Liberation Sans';font-weight:normal;color:#444;transform:scaleX(1.1926);">%</div>
<div class="t" style="left:738.33px;top:431.92px;font-size:17.6px;font-family:'Liberation Sans';font-weight:normal;color:#262626;transform:scaleX(1.1773);">Ch1</div>
<div class="t" style="left:738.29px;top:466.52px;font-size:17.6px;font-family:'Liberation Sans';font-weight:normal;color:#262626;transform:scaleX(1.2261);">Ch2</div>
<div class="t" style="left:1058.37px;top:426.26px;font-size:18.0px;font-family:'Liberation Sans';font-weight:normal;color:#2aea2a;transform:scaleX(1.2350);">0.008</div>
<div class="t" style="left:1131.22px;top:426.26px;font-size:18.0px;font-family:'Liberation Sans';font-weight:normal;color:#2aea2a;transform:scaleX(1.2143);">%</div>
<div class="t" style="left:1058.37px;top:470.86px;font-size:18.0px;font-family:'Liberation Sans';font-weight:normal;color:#2aea2a;transform:scaleX(1.2350);">0.006</div>
<div class="t" style="left:1131.22px;top:470.86px;font-size:18.0px;font-family:'Liberation Sans';font-weight:normal;color:#2aea2a;transform:scaleX(1.2143);">%</div>
<div class="a" style="left:300.5px;top:497.5px;width:428.5px;height:88.8px;background:#fff"></div>
<div class="a" style="left:300.5px;top:511.3px;width:428.5px;height:1px;background:#d2d2d2"></div>
<div class="t" style="left:303.59px;top:501.16px;font-size:9.1px;font-family:'Liberation Sans';font-weight:bold;color:#161616;transform:scaleX(1.2569);-webkit-text-stroke:0.40px currentColor;">Frequency</div>
<svg style="left:300.5px;top:497.5px" width="428.5" height="90" viewBox="300.5 497.5 428.5 90"><path d="M416.0 503.7h3.4l-1.7 1.9z" fill="#222"/><rect x="424.7" y="500.1" width="11.8" height="8.8" rx="0.6" fill="#283f50"/><rect x="426.09999999999997" y="502.1" width="9" height="1.1" fill="#e8eef2"/><rect x="426.09999999999997" y="506.1" width="9" height="1.1" fill="#e8eef2"/><path d="M426.5 505.5l2.2 -1.8h1.6l-1.6 1.8h3.2l2.2 -1.8" stroke="#9fb0bc" stroke-width="0.7" fill="none"/><path d="M438.5 503.7h3.4l-1.7 1.9z" fill="#222"/><rect x="447.2" y="500.1" width="11.9" height="8.7" fill="#283f50"/><polygon points="457.50,504.40 456.03,505.34 456.21,506.80 454.31,506.66 453.10,507.80 451.89,506.66 449.99,506.80 450.17,505.34 448.70,504.40 450.17,503.46 449.99,502.00 451.89,502.14 453.10,501.00 454.31,502.14 456.21,502.00 456.03,503.46" fill="#fff"/><ellipse cx="453.09999999999997" cy="504.4" rx="1.5" ry="1.15" fill="#283f50"/><rect x="691.5" y="500.0" width="0.9" height="9.5" fill="#d0d0d0"/><path d="M700.70 501.70H697.80V507.00H705.50V505.20" fill="none" stroke="#1d3550" stroke-width="1.4"/><path d="M700.10 505.80L703.70 503.00" stroke="#1d3550" stroke-width="1.4"/><path d="M702.00 501.00H706.20V504.60Z" fill="#1d3550"/><path d="M715.3 501.9l7.2 5.6M715.3 507.5l7.2 -5.6" stroke="#1a1a1a" stroke-width="1.3" stroke-linecap="round"/><rect x="302.5" y="548.3" width="107.5" height="1" fill="#c4c4c4"/><path d="M400.4 528.4000000000001h7.4l-3.7 5.7z" fill="#111"/><path d="M400.4 563.7h7.4l-3.7 5.7z" fill="#111"/><rect x="410.0" y="514.5" width="312.0" height="69.0" fill="#000"/><rect x="410.0" y="537.5" width="311.4" height="22.5" fill="#c4c4c4"/><rect x="410.0" y="548.5" width="311.4" height="1.9" fill="#ececec"/><rect x="410.0" y="539.1" width="311.4" height="9.20" fill="#878787"/><rect x="410.0" y="537.7" width="177.80" height="10.80" fill="#10f010"/><rect x="410.0" y="541.2" width="311.50" height="2.0" fill="#000"/><rect x="410.0" y="550.7" width="311.4" height="8.20" fill="#878787"/><rect x="410.0" y="550.4" width="177.80" height="9.50" fill="#10f010"/><rect x="410.0" y="554.0" width="311.50" height="1.8" fill="#000"/></svg>
<div class="t" style="left:369.85px;top:501.51px;font-size:8.1px;font-family:'Liberation Sans';font-weight:normal;color:#444;transform:scaleX(1.1815);">Hz</div>
<div class="t" style="left:305.83px;top:523.91px;font-size:17.6px;font-family:'Liberation Sans';font-weight:normal;color:#262626;transform:scaleX(1.1773);">Ch1</div>
<div class="t" style="left:305.79px;top:558.51px;font-size:17.6px;font-family:'Liberation Sans';font-weight:normal;color:#262626;transform:scaleX(1.2261);">Ch2</div>
<div class="t" style="left:574.90px;top:518.26px;font-size:18.0px;font-family:'Liberation Sans';font-weight:normal;color:#2aea2a;transform:scaleX(1.2350);">1.00000</div>
<div class="t" style="left:678.31px;top:518.26px;font-size:18.0px;font-family:'Liberation Sans';font-weight:normal;color:#2aea2a;transform:scaleX(1.3262);">kHz</div>
<div class="t" style="left:574.90px;top:562.86px;font-size:18.0px;font-family:'Liberation Sans';font-weight:normal;color:#2aea2a;transform:scaleX(1.2350);">1.00000</div>
<div class="t" style="left:678.31px;top:562.86px;font-size:18.0px;font-family:'Liberation Sans';font-weight:normal;color:#2aea2a;transform:scaleX(1.3262);">kHz</div>
<div class="a" style="left:733.0px;top:497.5px;width:428.0px;height:88.8px;background:#fff"></div>
<div class="a" style="left:733.0px;top:511.3px;width:428.0px;height:1px;background:#d2d2d2"></div>
<div class="t" style="left:735.81px;top:501.16px;font-size:9.1px;font-family:'Liberation Sans';font-weight:bold;color:#161616;transform:scaleX(1.3139);-webkit-text-stroke:0.40px currentColor;">SINAD</div>
<svg style="left:733.0px;top:497.5px" width="428.0" height="90" viewBox="733.0 497.5 428.0 90"><path d="M827.1999999999999 503.7h3.4l-1.7 1.9z" fill="#222"/><rect x="835.5" y="500.1" width="11.8" height="8.8" rx="0.6" fill="#283f50"/><rect x="836.9" y="502.1" width="9" height="1.1" fill="#e8eef2"/><rect x="836.9" y="506.1" width="9" height="1.1" fill="#e8eef2"/><path d="M837.3 505.5l2.2 -1.8h1.6l-1.6 1.8h3.2l2.2 -1.8" stroke="#9fb0bc" stroke-width="0.7" fill="none"/><path d="M849.3 503.7h3.4l-1.7 1.9z" fill="#222"/><rect x="857.9" y="500.1" width="11.9" height="8.7" fill="#283f50"/><polygon points="868.20,504.40 866.73,505.34 866.91,506.80 865.01,506.66 863.80,507.80 862.59,506.66 860.69,506.80 860.87,505.34 859.40,504.40 860.87,503.46 860.69,502.00 862.59,502.14 863.80,501.00 865.01,502.14 866.91,502.00 866.73,503.46" fill="#fff"/><ellipse cx="863.8" cy="504.4" rx="1.5" ry="1.15" fill="#283f50"/><rect x="1123.5" y="500.0" width="0.9" height="9.5" fill="#d0d0d0"/><path d="M1132.70 501.70H1129.80V507.00H1137.50V505.20" fill="none" stroke="#1d3550" stroke-width="1.4"/><path d="M1132.10 505.80L1135.70 503.00" stroke="#1d3550" stroke-width="1.4"/><path d="M1134.00 501.00H1138.20V504.60Z" fill="#1d3550"/><path d="M1147.3 501.9l7.2 5.6M1147.3 507.5l7.2 -5.6" stroke="#1a1a1a" stroke-width="1.3" stroke-linecap="round"/><rect x="735.0" y="548.3" width="107.5" height="1" fill="#c4c4c4"/><path d="M832.9 528.4000000000001h7.4l-3.7 5.7z" fill="#111"/><path d="M832.9 563.7h7.4l-3.7 5.7z" fill="#111"/><rect x="842.5" y="514.5" width="312.0" height="69.0" fill="#000"/><rect x="842.5" y="537.5" width="311.4" height="22.5" fill="#c4c4c4"/><rect x="842.5" y="548.5" width="311.4" height="1.9" fill="#ececec"/><rect x="842.5" y="539.1" width="311.4" height="9.20" fill="#878787"/><rect x="842.5" y="537.7" width="214.40" height="10.80" fill="#10f010"/><rect x="842.5" y="541.2" width="300.00" height="2.0" fill="#000"/><rect x="842.5" y="550.7" width="311.4" height="8.20" fill="#878787"/><rect x="842.5" y="550.4" width="220.70" height="9.50" fill="#10f010"/><rect x="842.5" y="554.0" width="265.20" height="1.8" fill="#000"/></svg>
<div class="t" style="left:780.99px;top:501.51px;font-size:8.1px;font-family:'Liberation Sans';font-weight:normal;color:#444;transform:scaleX(1.2347);">dB</div>
<div class="t" style="left:738.33px;top:523.91px;font-size:17.6px;font-family:'Liberation Sans';font-weight:normal;color:#262626;transform:scaleX(1.1773);">Ch1</div>
<div class="t" style="left:738.29px;top:558.51px;font-size:17.6px;font-family:'Liberation Sans';font-weight:normal;color:#262626;transform:scaleX(1.2261);">Ch2</div>
<div class="t" style="left:1022.55px;top:518.26px;font-size:18.0px;font-family:'Liberation Sans';font-weight:normal;color:#2aea2a;transform:scaleX(1.2350);">82.2381</div>
<div class="t" style="left:1122.18px;top:518.26px;font-size:18.0px;font-family:'Liberation Sans';font-weight:normal;color:#2aea2a;transform:scaleX(1.2755);">dB</div>
<div class="t" style="left:1022.20px;top:562.86px;font-size:18.0px;font-family:'Liberation Sans';font-weight:normal;color:#2aea2a;transform:scaleX(1.2350);">84.9070</div>
<div class="t" style="left:1122.18px;top:562.86px;font-size:18.0px;font-family:'Liberation Sans';font-weight:normal;color:#2aea2a;transform:scaleX(1.2755);">dB</div>
</div></body></html>
